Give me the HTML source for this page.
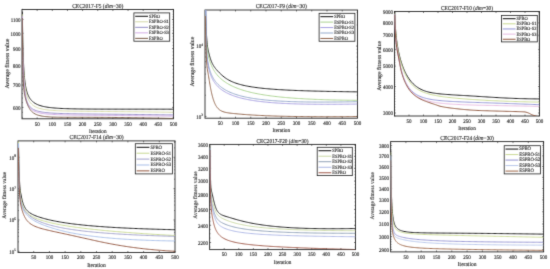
<!DOCTYPE html>
<html><head><meta charset="utf-8"><style>
html,body{margin:0;padding:0;background:#fff;}
svg{display:block;}
text{font-family:"Liberation Serif", serif; fill:#303030; stroke:#303030; stroke-width:0.14px; text-rendering:geometricPrecision;}
</style></head><body>
<svg width="550" height="269" viewBox="0 0 550 269" xmlns="http://www.w3.org/2000/svg">
<defs><filter id="bl" x="0" y="0" width="550" height="269" filterUnits="userSpaceOnUse" color-interpolation-filters="sRGB"><feConvolveMatrix order="3" kernelMatrix="0.0225 0.15 0.0225 0.15 1 0.15 0.0225 0.15 0.0225" edgeMode="duplicate" preserveAlpha="true"/></filter></defs>
<g filter="url(#bl)">
<rect width="550" height="269" fill="#fff"/>
<clipPath id="c1"><rect x="22" y="9.5" width="151.5" height="109.3"/></clipPath>
<rect x="22" y="9.5" width="151.5" height="109.3" fill="none" stroke="#262626" stroke-width="0.9"/>
<text transform="translate(37.15,125.6) scale(1,1.1)" font-size="5" text-anchor="middle">50</text>
<text transform="translate(52.3,125.6) scale(1,1.1)" font-size="5" text-anchor="middle">100</text>
<text transform="translate(67.45,125.6) scale(1,1.1)" font-size="5" text-anchor="middle">150</text>
<text transform="translate(82.6,125.6) scale(1,1.1)" font-size="5" text-anchor="middle">200</text>
<text transform="translate(97.75,125.6) scale(1,1.1)" font-size="5" text-anchor="middle">250</text>
<text transform="translate(112.9,125.6) scale(1,1.1)" font-size="5" text-anchor="middle">300</text>
<text transform="translate(128.05,125.6) scale(1,1.1)" font-size="5" text-anchor="middle">350</text>
<text transform="translate(143.2,125.6) scale(1,1.1)" font-size="5" text-anchor="middle">400</text>
<text transform="translate(158.35,125.6) scale(1,1.1)" font-size="5" text-anchor="middle">450</text>
<text transform="translate(173.5,125.6) scale(1,1.1)" font-size="5" text-anchor="middle">500</text>
<text transform="translate(20.5,109.7) scale(1,1.1)" font-size="5" text-anchor="end">600</text>
<text transform="translate(20.5,87.34) scale(1,1.1)" font-size="5" text-anchor="end">700</text>
<text transform="translate(20.5,67.97) scale(1,1.1)" font-size="5" text-anchor="end">800</text>
<text transform="translate(20.5,50.89) scale(1,1.1)" font-size="5" text-anchor="end">900</text>
<text transform="translate(20.5,35.6) scale(1,1.1)" font-size="5" text-anchor="end">1000</text>
<text transform="translate(20.5,21.78) scale(1,1.1)" font-size="5" text-anchor="end">1100</text>
<path d="M37.15,118.8v-1.5 M37.15,9.5v1.5 M52.3,118.8v-1.5 M52.3,9.5v1.5 M67.45,118.8v-1.5 M67.45,9.5v1.5 M82.6,118.8v-1.5 M82.6,9.5v1.5 M97.75,118.8v-1.5 M97.75,9.5v1.5 M112.9,118.8v-1.5 M112.9,9.5v1.5 M128.05,118.8v-1.5 M128.05,9.5v1.5 M143.2,118.8v-1.5 M143.2,9.5v1.5 M158.35,118.8v-1.5 M158.35,9.5v1.5 M173.5,118.8v-1.5 M173.5,9.5v1.5 M22,107.4h1.5 M173.5,107.4h-1.5 M22,85.04h1.5 M173.5,85.04h-1.5 M22,65.67h1.5 M173.5,65.67h-1.5 M22,48.59h1.5 M173.5,48.59h-1.5 M22,33.3h1.5 M173.5,33.3h-1.5 M22,19.48h1.5 M173.5,19.48h-1.5" stroke="#262626" stroke-width="0.6" fill="none"/>
<path d="M22,117.41h0.9 M173.5,117.41h-0.9 M22,112.32h0.9 M173.5,112.32h-0.9 M22,102.64h0.9 M173.5,102.64h-0.9 M22,98.04h0.9 M173.5,98.04h-0.9 M22,93.57h0.9 M173.5,93.57h-0.9 M22,89.24h0.9 M173.5,89.24h-0.9 M22,80.95h0.9 M173.5,80.95h-0.9 M22,76.98h0.9 M173.5,76.98h-0.9 M22,73.11h0.9 M173.5,73.11h-0.9 M22,69.34h0.9 M173.5,69.34h-0.9 M22,62.09h0.9 M173.5,62.09h-0.9 M22,58.59h0.9 M173.5,58.59h-0.9 M22,55.18h0.9 M173.5,55.18h-0.9 M22,51.85h0.9 M173.5,51.85h-0.9 M22,45.4h0.9 M173.5,45.4h-0.9 M22,42.28h0.9 M173.5,42.28h-0.9 M22,39.22h0.9 M173.5,39.22h-0.9 M22,36.23h0.9 M173.5,36.23h-0.9 M22,30.43h0.9 M173.5,30.43h-0.9 M22,27.61h0.9 M173.5,27.61h-0.9 M22,24.85h0.9 M173.5,24.85h-0.9 M22,22.14h0.9 M173.5,22.14h-0.9 M22,16.86h0.9 M173.5,16.86h-0.9 M22,14.3h0.9 M173.5,14.3h-0.9 M22,11.77h0.9 M173.5,11.77h-0.9 M22,9.29h0.9 M173.5,9.29h-0.9" stroke="#262626" stroke-width="0.5" fill="none"/>
<g clip-path="url(#c1)" fill="none" stroke-linejoin="round">
<path d="M22.3,11.93 L22.5,24.88 L22.7,35.55 L22.89,44.36 L23.09,51.63 L23.29,57.66 L23.49,62.66 L23.69,66.79 L23.89,70.21 L24.08,73.09 L24.28,75.54 L24.48,77.68 L24.68,79.55 L24.88,81.22 L25.08,82.72 L25.27,84.08 L25.47,85.32 L25.67,86.44 L25.87,87.48 L26.07,88.43 L26.27,89.31 L26.46,90.12 L26.66,90.88 L26.86,91.58 L27.06,92.24 L27.26,92.85 L27.46,93.43 L27.65,93.97 L27.85,94.48 L28.05,94.96 L28.25,95.42 L28.45,95.85 L28.65,96.26 L28.84,96.64 L29.04,97.01 L29.24,97.36 L29.44,97.7 L29.64,98.02 L29.84,98.32 L30.03,98.61 L30.23,98.89 L30.43,99.16 L30.63,99.42 L30.83,99.67 L31.03,99.9 L31.22,100.13 L31.42,100.35 L31.62,100.57 L31.82,100.77 L32.02,100.97 L32.22,101.16 L32.41,101.35 L32.61,101.52 L32.81,101.7 L33.01,101.87 L33.21,102.03 L33.41,102.18 L33.6,102.34 L33.8,102.48 L34,102.63 L35.17,103.39 L36.34,104.04 L37.52,104.59 L38.69,105.07 L39.86,105.48 L41.03,105.84 L42.21,106.16 L43.38,106.44 L44.55,106.69 L45.72,106.91 L46.89,107.11 L48.07,107.29 L49.24,107.45 L50.41,107.6 L51.58,107.73 L52.76,107.85 L53.93,107.96 L55.1,108.05 L56.27,108.14 L57.45,108.23 L58.62,108.3 L59.79,108.37 L60.96,108.43 L62.13,108.49 L63.31,108.54 L64.48,108.59 L65.65,108.64 L66.82,108.68 L68,108.72 L69.17,108.75 L70.34,108.78 L71.51,108.81 L72.68,108.84 L73.86,108.87 L75.03,108.89 L76.2,108.91 L77.37,108.93 L78.55,108.95 L79.72,108.97 L80.89,108.98 L82.06,109 L83.24,109.01 L84.41,109.03 L85.58,109.04 L86.75,109.05 L87.92,109.06 L89.1,109.07 L90.27,109.07 L91.44,109.08 L92.61,109.09 L93.79,109.1 L94.96,109.1 L96.13,109.11 L97.3,109.11 L98.47,109.12 L99.65,109.12 L100.82,109.13 L101.99,109.13 L103.16,109.13 L104.34,109.14 L105.51,109.14 L106.68,109.14 L107.85,109.14 L109.03,109.14 L110.2,109.15 L111.37,109.15 L112.54,109.15 L113.71,109.15 L114.89,109.15 L116.06,109.15 L117.23,109.15 L118.4,109.16 L119.58,109.16 L120.75,109.16 L121.92,109.16 L123.09,109.16 L124.26,109.16 L125.44,109.16 L126.61,109.16 L127.78,109.16 L128.95,109.16 L130.13,109.16 L131.3,109.16 L132.47,109.16 L133.64,109.16 L134.82,109.16 L135.99,109.16 L137.16,109.16 L138.33,109.16 L139.5,109.16 L140.68,109.16 L141.85,109.16 L143.02,109.17 L144.19,109.17 L145.37,109.17 L146.54,109.17 L147.71,109.17 L148.88,109.17 L150.05,109.17 L151.23,109.17 L152.4,109.17 L153.57,109.17 L154.74,109.17 L155.92,109.17 L157.09,109.17 L158.26,109.17 L159.43,109.18 L160.61,109.18 L161.78,109.18 L162.95,109.18 L164.12,109.18 L165.29,109.18 L166.47,109.18 L167.64,109.18 L168.81,109.18 L169.98,109.19 L171.16,109.19 L172.33,109.19 L173.5,109.19" stroke="#222222" stroke-width="1.0"/>
<path d="M22.3,14.19 L22.5,32.47 L22.7,44.06 L22.89,52.1 L23.09,58.14 L23.29,63.01 L23.49,67.14 L23.69,70.72 L23.89,73.84 L24.08,76.58 L24.28,79 L24.48,81.15 L24.68,83.07 L24.88,84.77 L25.08,86.31 L25.27,87.69 L25.47,88.95 L25.67,90.09 L25.87,91.14 L26.07,92.1 L26.27,92.98 L26.46,93.79 L26.66,94.55 L26.86,95.25 L27.06,95.91 L27.26,96.52 L27.46,97.09 L27.65,97.62 L27.85,98.13 L28.05,98.6 L28.25,99.04 L28.45,99.47 L28.65,99.86 L28.84,100.24 L29.04,100.6 L29.24,100.94 L29.44,101.27 L29.64,101.57 L29.84,101.87 L30.03,102.15 L30.23,102.42 L30.43,102.68 L30.63,102.92 L30.83,103.16 L31.03,103.39 L31.22,103.61 L31.42,103.82 L31.62,104.02 L31.82,104.21 L32.02,104.4 L32.22,104.58 L32.41,104.75 L32.61,104.92 L32.81,105.08 L33.01,105.24 L33.21,105.39 L33.41,105.54 L33.6,105.68 L33.8,105.81 L34,105.94 L35.17,106.64 L36.34,107.22 L37.52,107.71 L38.69,108.13 L39.86,108.49 L41.03,108.79 L42.21,109.06 L43.38,109.3 L44.55,109.5 L45.72,109.68 L46.89,109.84 L48.07,109.99 L49.24,110.11 L50.41,110.23 L51.58,110.33 L52.76,110.42 L53.93,110.5 L55.1,110.58 L56.27,110.64 L57.45,110.7 L58.62,110.76 L59.79,110.81 L60.96,110.86 L62.13,110.9 L63.31,110.94 L64.48,110.97 L65.65,111.01 L66.82,111.04 L68,111.07 L69.17,111.09 L70.34,111.12 L71.51,111.14 L72.68,111.16 L73.86,111.18 L75.03,111.2 L76.2,111.22 L77.37,111.23 L78.55,111.25 L79.72,111.27 L80.89,111.28 L82.06,111.29 L83.24,111.31 L84.41,111.32 L85.58,111.33 L86.75,111.35 L87.92,111.36 L89.1,111.37 L90.27,111.38 L91.44,111.39 L92.61,111.4 L93.79,111.41 L94.96,111.42 L96.13,111.43 L97.3,111.44 L98.47,111.45 L99.65,111.46 L100.82,111.47 L101.99,111.48 L103.16,111.49 L104.34,111.5 L105.51,111.51 L106.68,111.52 L107.85,111.54 L109.03,111.55 L110.2,111.56 L111.37,111.57 L112.54,111.58 L113.71,111.59 L114.89,111.6 L116.06,111.61 L117.23,111.62 L118.4,111.63 L119.58,111.64 L120.75,111.65 L121.92,111.66 L123.09,111.67 L124.26,111.69 L125.44,111.7 L126.61,111.71 L127.78,111.72 L128.95,111.73 L130.13,111.74 L131.3,111.76 L132.47,111.77 L133.64,111.78 L134.82,111.79 L135.99,111.81 L137.16,111.82 L138.33,111.83 L139.5,111.85 L140.68,111.86 L141.85,111.87 L143.02,111.89 L144.19,111.9 L145.37,111.91 L146.54,111.93 L147.71,111.94 L148.88,111.95 L150.05,111.97 L151.23,111.98 L152.4,112 L153.57,112.01 L154.74,112.03 L155.92,112.04 L157.09,112.06 L158.26,112.07 L159.43,112.09 L160.61,112.1 L161.78,112.12 L162.95,112.13 L164.12,112.15 L165.29,112.16 L166.47,112.18 L167.64,112.19 L168.81,112.21 L169.98,112.23 L171.16,112.24 L172.33,112.26 L173.5,112.27" stroke="#d2d6a4" stroke-width="0.9"/>
<path d="M22.3,16.43 L22.5,41.21 L22.7,54.58 L22.89,62.59 L23.09,68.03 L23.29,72.31 L23.49,75.98 L23.69,79.17 L23.89,81.95 L24.08,84.41 L24.28,86.58 L24.48,88.52 L24.68,90.25 L24.88,91.79 L25.08,93.18 L25.27,94.43 L25.47,95.56 L25.67,96.58 L25.87,97.51 L26.07,98.35 L26.27,99.13 L26.46,99.84 L26.66,100.5 L26.86,101.1 L27.06,101.66 L27.26,102.18 L27.46,102.67 L27.65,103.12 L27.85,103.54 L28.05,103.94 L28.25,104.31 L28.45,104.65 L28.65,104.98 L28.84,105.29 L29.04,105.58 L29.24,105.85 L29.44,106.11 L29.64,106.36 L29.84,106.59 L30.03,106.82 L30.23,107.03 L30.43,107.23 L30.63,107.42 L30.83,107.6 L31.03,107.78 L31.22,107.95 L31.42,108.11 L31.62,108.26 L31.82,108.41 L32.02,108.55 L32.22,108.68 L32.41,108.82 L32.61,108.94 L32.81,109.06 L33.01,109.18 L33.21,109.3 L33.41,109.4 L33.6,109.51 L33.8,109.61 L34,109.71 L35.17,110.24 L36.34,110.68 L37.52,111.05 L38.69,111.37 L39.86,111.64 L41.03,111.88 L42.21,112.08 L43.38,112.26 L44.55,112.42 L45.72,112.56 L46.89,112.68 L48.07,112.8 L49.24,112.9 L50.41,112.99 L51.58,113.07 L52.76,113.14 L53.93,113.21 L55.1,113.27 L56.27,113.32 L57.45,113.37 L58.62,113.42 L59.79,113.46 L60.96,113.5 L62.13,113.54 L63.31,113.57 L64.48,113.6 L65.65,113.63 L66.82,113.66 L68,113.68 L69.17,113.71 L70.34,113.73 L71.51,113.75 L72.68,113.77 L73.86,113.79 L75.03,113.81 L76.2,113.83 L77.37,113.84 L78.55,113.86 L79.72,113.88 L80.89,113.89 L82.06,113.91 L83.24,113.92 L84.41,113.93 L85.58,113.95 L86.75,113.96 L87.92,113.97 L89.1,113.99 L90.27,114 L91.44,114.01 L92.61,114.02 L93.79,114.03 L94.96,114.05 L96.13,114.06 L97.3,114.07 L98.47,114.08 L99.65,114.09 L100.82,114.1 L101.99,114.12 L103.16,114.13 L104.34,114.14 L105.51,114.15 L106.68,114.16 L107.85,114.17 L109.03,114.18 L110.2,114.2 L111.37,114.21 L112.54,114.22 L113.71,114.23 L114.89,114.24 L116.06,114.25 L117.23,114.27 L118.4,114.28 L119.58,114.29 L120.75,114.3 L121.92,114.31 L123.09,114.33 L124.26,114.34 L125.44,114.35 L126.61,114.36 L127.78,114.37 L128.95,114.39 L130.13,114.4 L131.3,114.41 L132.47,114.42 L133.64,114.44 L134.82,114.45 L135.99,114.46 L137.16,114.48 L138.33,114.49 L139.5,114.5 L140.68,114.52 L141.85,114.53 L143.02,114.54 L144.19,114.56 L145.37,114.57 L146.54,114.58 L147.71,114.6 L148.88,114.61 L150.05,114.62 L151.23,114.64 L152.4,114.65 L153.57,114.67 L154.74,114.68 L155.92,114.7 L157.09,114.71 L158.26,114.72 L159.43,114.74 L160.61,114.75 L161.78,114.77 L162.95,114.78 L164.12,114.8 L165.29,114.81 L166.47,114.83 L167.64,114.84 L168.81,114.86 L169.98,114.87 L171.16,114.89 L172.33,114.9 L173.5,114.92" stroke="#8e88c4" stroke-width="0.9"/>
<path d="M22.3,16.43 L22.5,41.15 L22.7,54.56 L22.89,62.65 L23.09,68.2 L23.29,72.59 L23.49,76.36 L23.69,79.64 L23.89,82.52 L24.08,85.06 L24.28,87.31 L24.48,89.32 L24.68,91.1 L24.88,92.7 L25.08,94.14 L25.27,95.42 L25.47,96.58 L25.67,97.63 L25.87,98.58 L26.07,99.45 L26.27,100.24 L26.46,100.97 L26.66,101.64 L26.86,102.26 L27.06,102.83 L27.26,103.36 L27.46,103.85 L27.65,104.31 L27.85,104.73 L28.05,105.13 L28.25,105.51 L28.45,105.86 L28.65,106.19 L28.84,106.5 L29.04,106.8 L29.24,107.07 L29.44,107.34 L29.64,107.58 L29.84,107.82 L30.03,108.04 L30.23,108.26 L30.43,108.46 L30.63,108.66 L30.83,108.84 L31.03,109.02 L31.22,109.19 L31.42,109.35 L31.62,109.51 L31.82,109.66 L32.02,109.8 L32.22,109.94 L32.41,110.08 L32.61,110.21 L32.81,110.33 L33.01,110.45 L33.21,110.57 L33.41,110.68 L33.6,110.79 L33.8,110.89 L34,111 L35.17,111.53 L36.34,111.98 L37.52,112.36 L38.69,112.68 L39.86,112.96 L41.03,113.19 L42.21,113.4 L43.38,113.58 L44.55,113.74 L45.72,113.88 L46.89,114 L48.07,114.11 L49.24,114.21 L50.41,114.3 L51.58,114.38 L52.76,114.45 L53.93,114.51 L55.1,114.57 L56.27,114.62 L57.45,114.67 L58.62,114.71 L59.79,114.75 L60.96,114.79 L62.13,114.82 L63.31,114.86 L64.48,114.88 L65.65,114.91 L66.82,114.94 L68,114.96 L69.17,114.98 L70.34,115 L71.51,115.02 L72.68,115.04 L73.86,115.06 L75.03,115.07 L76.2,115.09 L77.37,115.1 L78.55,115.12 L79.72,115.13 L80.89,115.15 L82.06,115.16 L83.24,115.17 L84.41,115.18 L85.58,115.19 L86.75,115.21 L87.92,115.22 L89.1,115.23 L90.27,115.24 L91.44,115.25 L92.61,115.26 L93.79,115.27 L94.96,115.28 L96.13,115.29 L97.3,115.3 L98.47,115.31 L99.65,115.32 L100.82,115.33 L101.99,115.34 L103.16,115.35 L104.34,115.36 L105.51,115.37 L106.68,115.38 L107.85,115.39 L109.03,115.4 L110.2,115.42 L111.37,115.43 L112.54,115.44 L113.71,115.45 L114.89,115.46 L116.06,115.47 L117.23,115.48 L118.4,115.49 L119.58,115.5 L120.75,115.51 L121.92,115.52 L123.09,115.53 L124.26,115.55 L125.44,115.56 L126.61,115.57 L127.78,115.58 L128.95,115.59 L130.13,115.6 L131.3,115.62 L132.47,115.63 L133.64,115.64 L134.82,115.65 L135.99,115.67 L137.16,115.68 L138.33,115.69 L139.5,115.7 L140.68,115.72 L141.85,115.73 L143.02,115.74 L144.19,115.76 L145.37,115.77 L146.54,115.78 L147.71,115.8 L148.88,115.81 L150.05,115.82 L151.23,115.84 L152.4,115.85 L153.57,115.86 L154.74,115.88 L155.92,115.89 L157.09,115.91 L158.26,115.92 L159.43,115.93 L160.61,115.95 L161.78,115.96 L162.95,115.98 L164.12,115.99 L165.29,116.01 L166.47,116.02 L167.64,116.04 L168.81,116.05 L169.98,116.07 L171.16,116.08 L172.33,116.1 L173.5,116.11" stroke="#d0a8e4" stroke-width="0.9"/>
<path d="M22.3,17.95 L22.5,42.08 L22.7,60.58 L22.89,71.86 L23.09,78.03 L23.29,82.01 L23.49,85.03 L23.69,87.42 L23.89,89.37 L24.08,91 L24.28,92.41 L24.48,93.66 L24.68,94.78 L24.88,95.8 L25.08,96.73 L25.27,97.59 L25.47,98.38 L25.67,99.13 L25.87,99.83 L26.07,100.49 L26.27,101.12 L26.46,101.72 L26.66,102.3 L26.86,102.85 L27.06,103.39 L27.26,103.9 L27.46,104.4 L27.65,104.89 L27.85,105.36 L28.05,105.81 L28.25,106.24 L28.45,106.66 L28.65,107.06 L28.84,107.45 L29.04,107.82 L29.24,108.17 L29.44,108.51 L29.64,108.84 L29.84,109.15 L30.03,109.45 L30.23,109.73 L30.43,110 L30.63,110.26 L30.83,110.51 L31.03,110.75 L31.22,110.97 L31.42,111.19 L31.62,111.4 L31.82,111.6 L32.02,111.79 L32.22,111.97 L32.41,112.15 L32.61,112.32 L32.81,112.48 L33.01,112.63 L33.21,112.78 L33.41,112.93 L33.6,113.07 L33.8,113.2 L34,113.33 L35.17,114 L36.34,114.55 L37.52,115 L38.69,115.37 L39.86,115.67 L41.03,115.93 L42.21,116.15 L43.38,116.33 L44.55,116.49 L45.72,116.62 L46.89,116.73 L48.07,116.82 L49.24,116.9 L50.41,116.97 L51.58,117.03 L52.76,117.08 L53.93,117.12 L55.1,117.15 L56.27,117.18 L57.45,117.21 L58.62,117.23 L59.79,117.24 L60.96,117.26 L62.13,117.27 L63.31,117.28 L64.48,117.29 L65.65,117.29 L66.82,117.3 L68,117.3 L69.17,117.3 L70.34,117.31 L71.51,117.31 L72.68,117.31 L73.86,117.31 L75.03,117.31 L76.2,117.31 L77.37,117.31 L78.55,117.31 L79.72,117.31 L80.89,117.31 L82.06,117.31 L83.24,117.31 L84.41,117.31 L85.58,117.31 L86.75,117.32 L87.92,117.32 L89.1,117.32 L90.27,117.32 L91.44,117.32 L92.61,117.33 L93.79,117.33 L94.96,117.34 L96.13,117.34 L97.3,117.35 L98.47,117.35 L99.65,117.36 L100.82,117.36 L101.99,117.37 L103.16,117.38 L104.34,117.38 L105.51,117.39 L106.68,117.4 L107.85,117.41 L109.03,117.42 L110.2,117.43 L111.37,117.44 L112.54,117.45 L113.71,117.46 L114.89,117.47 L116.06,117.49 L117.23,117.5 L118.4,117.51 L119.58,117.53 L120.75,117.54 L121.92,117.55 L123.09,117.57 L124.26,117.58 L125.44,117.6 L126.61,117.61 L127.78,117.63 L128.95,117.65 L130.13,117.66 L131.3,117.68 L132.47,117.7 L133.64,117.72 L134.82,117.73 L135.99,117.75 L137.16,117.77 L138.33,117.79 L139.5,117.81 L140.68,117.83 L141.85,117.85 L143.02,117.87 L144.19,117.89 L145.37,117.91 L146.54,117.94 L147.71,117.96 L148.88,117.98 L150.05,118 L151.23,118.03 L152.4,118.05 L153.57,118.07 L154.74,118.1 L155.92,118.12 L157.09,118.14 L158.26,118.17 L159.43,118.19 L160.61,118.22 L161.78,118.24 L162.95,118.27 L164.12,118.29 L165.29,118.32 L166.47,118.35 L167.64,118.37 L168.81,118.4 L169.98,118.43 L171.16,118.45 L172.33,118.48 L173.5,118.51" stroke="#74523e" stroke-width="0.9"/>
</g>
<text transform="translate(97.75,7.9) scale(1,1.1)" font-size="5.5" text-anchor="middle">CEC2017-F5 (<tspan font-style="italic">dim</tspan>=30)</text>
<text transform="translate(97.75,132.8) scale(1,1.1)" font-size="5.2" text-anchor="middle">Iteration</text>
<text transform="translate(8.7,63.55) rotate(-90)" text-anchor="middle" font-size="5.8">Average fitness value</text>
<rect x="133.9" y="12.9" width="35.8" height="28.3" fill="#fff" stroke="#222" stroke-width="0.8"/>
<path d="M135.2,16.3h12.8" stroke="#222222" stroke-width="1.1"/>
<text transform="translate(149,17.7) scale(1,1.1)" font-size="4.4">SPBO</text>
<path d="M135.2,21.81h12.8" stroke="#d2d6a4" stroke-width="0.95"/>
<text transform="translate(149,23.21) scale(1,1.1)" font-size="4.4">ESPBO-S1</text>
<path d="M135.2,27.33h12.8" stroke="#8e88c4" stroke-width="0.95"/>
<text transform="translate(149,28.73) scale(1,1.1)" font-size="4.4">ESPBO-S2</text>
<path d="M135.2,32.85h12.8" stroke="#d0a8e4" stroke-width="0.95"/>
<text transform="translate(149,34.25) scale(1,1.1)" font-size="4.4">ESPBO-S3</text>
<path d="M135.2,38.37h12.8" stroke="#74523e" stroke-width="0.95"/>
<text transform="translate(149,39.77) scale(1,1.1)" font-size="4.4">ESPBO</text>
<clipPath id="c2"><rect x="205" y="10" width="152.5" height="108.2"/></clipPath>
<rect x="205" y="10" width="152.5" height="108.2" fill="none" stroke="#262626" stroke-width="0.9"/>
<text transform="translate(220.25,125) scale(1,1.1)" font-size="5" text-anchor="middle">50</text>
<text transform="translate(235.5,125) scale(1,1.1)" font-size="5" text-anchor="middle">100</text>
<text transform="translate(250.75,125) scale(1,1.1)" font-size="5" text-anchor="middle">150</text>
<text transform="translate(266,125) scale(1,1.1)" font-size="5" text-anchor="middle">200</text>
<text transform="translate(281.25,125) scale(1,1.1)" font-size="5" text-anchor="middle">250</text>
<text transform="translate(296.5,125) scale(1,1.1)" font-size="5" text-anchor="middle">300</text>
<text transform="translate(311.75,125) scale(1,1.1)" font-size="5" text-anchor="middle">350</text>
<text transform="translate(327,125) scale(1,1.1)" font-size="5" text-anchor="middle">400</text>
<text transform="translate(342.25,125) scale(1,1.1)" font-size="5" text-anchor="middle">450</text>
<text transform="translate(357.5,125) scale(1,1.1)" font-size="5" text-anchor="middle">500</text>
<text transform="translate(203,118.7) scale(1,1.1)" text-anchor="end" font-size="5.0">10<tspan dy="-2.1" font-size="3.5">3</tspan></text>
<text transform="translate(203,48.4) scale(1,1.1)" text-anchor="end" font-size="5.0">10<tspan dy="-2.1" font-size="3.5">4</tspan></text>
<path d="M220.25,118.2v-1.5 M220.25,10v1.5 M235.5,118.2v-1.5 M235.5,10v1.5 M250.75,118.2v-1.5 M250.75,10v1.5 M266,118.2v-1.5 M266,10v1.5 M281.25,118.2v-1.5 M281.25,10v1.5 M296.5,118.2v-1.5 M296.5,10v1.5 M311.75,118.2v-1.5 M311.75,10v1.5 M327,118.2v-1.5 M327,10v1.5 M342.25,118.2v-1.5 M342.25,10v1.5 M357.5,118.2v-1.5 M357.5,10v1.5 M205,116.4h1.5 M357.5,116.4h-1.5 M205,46.1h1.5 M357.5,46.1h-1.5" stroke="#262626" stroke-width="0.6" fill="none"/>
<path d="M205,95.24h0.9 M357.5,95.24h-0.9 M205,82.86h0.9 M357.5,82.86h-0.9 M205,74.08h0.9 M357.5,74.08h-0.9 M205,67.26h0.9 M357.5,67.26h-0.9 M205,61.7h0.9 M357.5,61.7h-0.9 M205,56.99h0.9 M357.5,56.99h-0.9 M205,52.91h0.9 M357.5,52.91h-0.9 M205,49.32h0.9 M357.5,49.32h-0.9 M205,24.94h0.9 M357.5,24.94h-0.9 M205,12.56h0.9 M357.5,12.56h-0.9" stroke="#262626" stroke-width="0.5" fill="none"/>
<g clip-path="url(#c2)" fill="none" stroke-linejoin="round">
<path d="M205.3,10.95 L205.5,13.98 L205.7,18.33 L205.89,22.91 L206.09,27.27 L206.29,31.24 L206.49,34.76 L206.69,37.83 L206.89,40.48 L207.08,42.71 L207.28,44.59 L207.48,46.15 L207.68,47.48 L207.88,48.64 L208.08,49.68 L208.27,50.64 L208.47,51.53 L208.67,52.38 L208.87,53.2 L209.07,53.99 L209.27,54.76 L209.46,55.5 L209.66,56.22 L209.86,56.9 L210.06,57.57 L210.26,58.2 L210.46,58.82 L210.65,59.41 L210.85,59.97 L211.05,60.51 L211.25,61.04 L211.45,61.53 L211.65,62.01 L211.84,62.47 L212.04,62.91 L212.24,63.33 L212.44,63.74 L212.64,64.13 L212.84,64.5 L213.03,64.85 L213.23,65.2 L213.43,65.53 L213.63,65.85 L213.83,66.16 L214.03,66.46 L214.22,66.75 L214.42,67.04 L214.62,67.32 L214.82,67.59 L215.02,67.85 L215.22,68.11 L215.41,68.36 L215.61,68.61 L215.81,68.86 L216.01,69.09 L216.21,69.33 L216.41,69.56 L216.6,69.79 L216.8,70.02 L217,70.24 L218.18,71.51 L219.36,72.73 L220.54,73.89 L221.72,74.99 L222.9,76.02 L224.08,76.98 L225.26,77.86 L226.45,78.67 L227.63,79.41 L228.81,80.09 L229.99,80.71 L231.17,81.28 L232.35,81.8 L233.53,82.29 L234.71,82.75 L235.89,83.17 L237.07,83.56 L238.25,83.93 L239.43,84.28 L240.61,84.6 L241.79,84.9 L242.97,85.19 L244.16,85.46 L245.34,85.72 L246.52,85.96 L247.7,86.19 L248.88,86.41 L250.06,86.61 L251.24,86.81 L252.42,87 L253.6,87.17 L254.78,87.34 L255.96,87.5 L257.14,87.66 L258.32,87.81 L259.5,87.95 L260.68,88.08 L261.87,88.21 L263.05,88.34 L264.23,88.46 L265.41,88.57 L266.59,88.68 L267.77,88.79 L268.95,88.89 L270.13,88.99 L271.31,89.08 L272.49,89.17 L273.67,89.26 L274.85,89.34 L276.03,89.42 L277.21,89.5 L278.39,89.58 L279.58,89.65 L280.76,89.72 L281.94,89.79 L283.12,89.86 L284.3,89.92 L285.48,89.99 L286.66,90.05 L287.84,90.11 L289.02,90.16 L290.2,90.22 L291.38,90.27 L292.56,90.32 L293.74,90.37 L294.92,90.42 L296.11,90.47 L297.29,90.52 L298.47,90.56 L299.65,90.61 L300.83,90.65 L302.01,90.69 L303.19,90.73 L304.37,90.77 L305.55,90.81 L306.73,90.84 L307.91,90.88 L309.09,90.92 L310.27,90.95 L311.45,90.99 L312.63,91.02 L313.82,91.05 L315,91.08 L316.18,91.11 L317.36,91.14 L318.54,91.17 L319.72,91.2 L320.9,91.23 L322.08,91.26 L323.26,91.28 L324.44,91.31 L325.62,91.33 L326.8,91.36 L327.98,91.38 L329.16,91.41 L330.34,91.43 L331.53,91.45 L332.71,91.48 L333.89,91.5 L335.07,91.52 L336.25,91.54 L337.43,91.56 L338.61,91.58 L339.79,91.6 L340.97,91.62 L342.15,91.64 L343.33,91.66 L344.51,91.68 L345.69,91.7 L346.87,91.72 L348.05,91.73 L349.24,91.75 L350.42,91.77 L351.6,91.79 L352.78,91.8 L353.96,91.82 L355.14,91.83 L356.32,91.85 L357.5,91.87" stroke="#222222" stroke-width="1.0"/>
<path d="M205.3,11.96 L205.5,17.47 L205.7,22.89 L205.89,27.84 L206.09,32.26 L206.29,36.13 L206.49,39.51 L206.69,42.44 L206.89,44.97 L207.08,47.14 L207.28,48.99 L207.48,50.58 L207.68,51.96 L207.88,53.17 L208.08,54.27 L208.27,55.26 L208.47,56.18 L208.67,57.03 L208.87,57.84 L209.07,58.61 L209.27,59.33 L209.46,60.02 L209.66,60.68 L209.86,61.31 L210.06,61.92 L210.26,62.5 L210.46,63.05 L210.65,63.59 L210.85,64.11 L211.05,64.61 L211.25,65.09 L211.45,65.55 L211.65,66.01 L211.84,66.44 L212.04,66.87 L212.24,67.28 L212.44,67.68 L212.64,68.08 L212.84,68.46 L213.03,68.83 L213.23,69.19 L213.43,69.54 L213.63,69.88 L213.83,70.22 L214.03,70.55 L214.22,70.87 L214.42,71.18 L214.62,71.49 L214.82,71.79 L215.02,72.08 L215.22,72.37 L215.41,72.65 L215.61,72.93 L215.81,73.2 L216.01,73.46 L216.21,73.72 L216.41,73.98 L216.6,74.23 L216.8,74.47 L217,74.72 L218.18,76.07 L219.36,77.3 L220.54,78.42 L221.72,79.45 L222.9,80.41 L224.08,81.29 L225.26,82.12 L226.45,82.89 L227.63,83.62 L228.81,84.3 L229.99,84.94 L231.17,85.55 L232.35,86.13 L233.53,86.68 L234.71,87.2 L235.89,87.69 L237.07,88.16 L238.25,88.61 L239.43,89.04 L240.61,89.45 L241.79,89.84 L242.97,90.21 L244.16,90.57 L245.34,90.92 L246.52,91.25 L247.7,91.56 L248.88,91.87 L250.06,92.16 L251.24,92.44 L252.42,92.71 L253.6,92.97 L254.78,93.23 L255.96,93.47 L257.14,93.7 L258.32,93.93 L259.5,94.15 L260.68,94.36 L261.87,94.56 L263.05,94.76 L264.23,94.95 L265.41,95.13 L266.59,95.31 L267.77,95.48 L268.95,95.65 L270.13,95.81 L271.31,95.97 L272.49,96.12 L273.67,96.26 L274.85,96.4 L276.03,96.54 L277.21,96.68 L278.39,96.8 L279.58,96.93 L280.76,97.05 L281.94,97.17 L283.12,97.28 L284.3,97.39 L285.48,97.5 L286.66,97.6 L287.84,97.71 L289.02,97.8 L290.2,97.9 L291.38,97.99 L292.56,98.08 L293.74,98.17 L294.92,98.25 L296.11,98.33 L297.29,98.41 L298.47,98.49 L299.65,98.56 L300.83,98.64 L302.01,98.71 L303.19,98.77 L304.37,98.84 L305.55,98.9 L306.73,98.97 L307.91,99.03 L309.09,99.08 L310.27,99.14 L311.45,99.2 L312.63,99.25 L313.82,99.3 L315,99.35 L316.18,99.4 L317.36,99.45 L318.54,99.49 L319.72,99.53 L320.9,99.58 L322.08,99.62 L323.26,99.66 L324.44,99.7 L325.62,99.73 L326.8,99.77 L327.98,99.8 L329.16,99.84 L330.34,99.87 L331.53,99.9 L332.71,99.93 L333.89,99.96 L335.07,99.98 L336.25,100.01 L337.43,100.04 L338.61,100.06 L339.79,100.08 L340.97,100.11 L342.15,100.13 L343.33,100.15 L344.51,100.17 L345.69,100.19 L346.87,100.2 L348.05,100.22 L349.24,100.24 L350.42,100.25 L351.6,100.27 L352.78,100.28 L353.96,100.3 L355.14,100.31 L356.32,100.32 L357.5,100.33" stroke="#a6d08a" stroke-width="0.9"/>
<path d="M205.3,14 L205.5,-6.77 L205.7,-1.78 L205.89,11.64 L206.09,26.21 L206.29,38.72 L206.49,47.84 L206.69,53.35 L206.89,56.54 L207.08,58.53 L207.28,60.07 L207.48,61.47 L207.68,62.76 L207.88,63.96 L208.08,65.07 L208.27,66.11 L208.47,67.08 L208.67,68 L208.87,68.86 L209.07,69.67 L209.27,70.45 L209.46,71.18 L209.66,71.87 L209.86,72.53 L210.06,73.16 L210.26,73.77 L210.46,74.34 L210.65,74.9 L210.85,75.42 L211.05,75.93 L211.25,76.42 L211.45,76.89 L211.65,77.35 L211.84,77.79 L212.04,78.21 L212.24,78.62 L212.44,79.01 L212.64,79.4 L212.84,79.77 L213.03,80.13 L213.23,80.48 L213.43,80.82 L213.63,81.15 L213.83,81.47 L214.03,81.78 L214.22,82.08 L214.42,82.38 L214.62,82.66 L214.82,82.95 L215.02,83.22 L215.22,83.49 L215.41,83.75 L215.61,84 L215.81,84.25 L216.01,84.49 L216.21,84.73 L216.41,84.97 L216.6,85.19 L216.8,85.42 L217,85.63 L218.18,86.85 L219.36,87.93 L220.54,88.91 L221.72,89.8 L222.9,90.62 L224.08,91.37 L225.26,92.06 L226.45,92.71 L227.63,93.31 L228.81,93.87 L229.99,94.4 L231.17,94.89 L232.35,95.36 L233.53,95.8 L234.71,96.21 L235.89,96.61 L237.07,96.98 L238.25,97.33 L239.43,97.66 L240.61,97.98 L241.79,98.28 L242.97,98.56 L244.16,98.83 L245.34,99.09 L246.52,99.34 L247.7,99.57 L248.88,99.8 L250.06,100.01 L251.24,100.22 L252.42,100.41 L253.6,100.6 L254.78,100.78 L255.96,100.95 L257.14,101.11 L258.32,101.27 L259.5,101.42 L260.68,101.56 L261.87,101.7 L263.05,101.83 L264.23,101.96 L265.41,102.08 L266.59,102.2 L267.77,102.31 L268.95,102.41 L270.13,102.51 L271.31,102.61 L272.49,102.7 L273.67,102.79 L274.85,102.88 L276.03,102.96 L277.21,103.04 L278.39,103.12 L279.58,103.19 L280.76,103.26 L281.94,103.32 L283.12,103.38 L284.3,103.44 L285.48,103.5 L286.66,103.56 L287.84,103.61 L289.02,103.66 L290.2,103.71 L291.38,103.75 L292.56,103.79 L293.74,103.83 L294.92,103.87 L296.11,103.91 L297.29,103.94 L298.47,103.98 L299.65,104.01 L300.83,104.04 L302.01,104.06 L303.19,104.09 L304.37,104.11 L305.55,104.14 L306.73,104.16 L307.91,104.18 L309.09,104.19 L310.27,104.21 L311.45,104.22 L312.63,104.24 L313.82,104.25 L315,104.26 L316.18,104.27 L317.36,104.28 L318.54,104.29 L319.72,104.3 L320.9,104.3 L322.08,104.31 L323.26,104.31 L324.44,104.31 L325.62,104.31 L326.8,104.31 L327.98,104.31 L329.16,104.31 L330.34,104.31 L331.53,104.3 L332.71,104.3 L333.89,104.3 L335.07,104.29 L336.25,104.28 L337.43,104.28 L338.61,104.27 L339.79,104.26 L340.97,104.25 L342.15,104.24 L343.33,104.23 L344.51,104.22 L345.69,104.2 L346.87,104.19 L348.05,104.18 L349.24,104.16 L350.42,104.15 L351.6,104.13 L352.78,104.12 L353.96,104.1 L355.14,104.08 L356.32,104.06 L357.5,104.05" stroke="#a49ce0" stroke-width="0.9"/>
<path d="M205.3,14 L205.5,-16.57 L205.7,-12.99 L205.89,2.13 L206.09,19.21 L206.29,34.03 L206.49,44.74 L206.69,51.05 L206.89,54.51 L207.08,56.54 L207.28,58.04 L207.48,59.4 L207.68,60.65 L207.88,61.81 L208.08,62.9 L208.27,63.91 L208.47,64.86 L208.67,65.75 L208.87,66.6 L209.07,67.39 L209.27,68.15 L209.46,68.87 L209.66,69.55 L209.86,70.2 L210.06,70.83 L210.26,71.42 L210.46,71.99 L210.65,72.54 L210.85,73.07 L211.05,73.57 L211.25,74.06 L211.45,74.53 L211.65,74.98 L211.84,75.41 L212.04,75.84 L212.24,76.25 L212.44,76.64 L212.64,77.02 L212.84,77.4 L213.03,77.76 L213.23,78.11 L213.43,78.45 L213.63,78.78 L213.83,79.1 L214.03,79.41 L214.22,79.72 L214.42,80.02 L214.62,80.31 L214.82,80.59 L215.02,80.87 L215.22,81.14 L215.41,81.4 L215.61,81.66 L215.81,81.91 L216.01,82.15 L216.21,82.4 L216.41,82.63 L216.6,82.86 L216.8,83.09 L217,83.31 L218.18,84.54 L219.36,85.64 L220.54,86.64 L221.72,87.55 L222.9,88.37 L224.08,89.14 L225.26,89.85 L226.45,90.5 L227.63,91.11 L228.81,91.69 L229.99,92.22 L231.17,92.73 L232.35,93.2 L233.53,93.65 L234.71,94.07 L235.89,94.46 L237.07,94.84 L238.25,95.2 L239.43,95.53 L240.61,95.85 L241.79,96.16 L242.97,96.45 L244.16,96.72 L245.34,96.98 L246.52,97.23 L247.7,97.47 L248.88,97.69 L250.06,97.91 L251.24,98.12 L252.42,98.31 L253.6,98.5 L254.78,98.68 L255.96,98.85 L257.14,99.01 L258.32,99.17 L259.5,99.32 L260.68,99.46 L261.87,99.6 L263.05,99.73 L264.23,99.86 L265.41,99.98 L266.59,100.09 L267.77,100.2 L268.95,100.31 L270.13,100.41 L271.31,100.5 L272.49,100.59 L273.67,100.68 L274.85,100.77 L276.03,100.85 L277.21,100.92 L278.39,100.99 L279.58,101.06 L280.76,101.13 L281.94,101.19 L283.12,101.25 L284.3,101.31 L285.48,101.37 L286.66,101.42 L287.84,101.47 L289.02,101.52 L290.2,101.56 L291.38,101.6 L292.56,101.64 L293.74,101.68 L294.92,101.71 L296.11,101.75 L297.29,101.78 L298.47,101.81 L299.65,101.84 L300.83,101.86 L302.01,101.89 L303.19,101.91 L304.37,101.93 L305.55,101.95 L306.73,101.97 L307.91,101.98 L309.09,102 L310.27,102.01 L311.45,102.02 L312.63,102.03 L313.82,102.04 L315,102.05 L316.18,102.05 L317.36,102.06 L318.54,102.06 L319.72,102.07 L320.9,102.07 L322.08,102.07 L323.26,102.07 L324.44,102.07 L325.62,102.06 L326.8,102.06 L327.98,102.06 L329.16,102.05 L330.34,102.04 L331.53,102.04 L332.71,102.03 L333.89,102.02 L335.07,102.01 L336.25,102 L337.43,101.99 L338.61,101.98 L339.79,101.96 L340.97,101.95 L342.15,101.94 L343.33,101.92 L344.51,101.9 L345.69,101.89 L346.87,101.87 L348.05,101.85 L349.24,101.83 L350.42,101.82 L351.6,101.8 L352.78,101.78 L353.96,101.76 L355.14,101.73 L356.32,101.71 L357.5,101.69" stroke="#8ea4c8" stroke-width="0.9"/>
<path d="M205.3,15.97 L205.5,26.29 L205.7,35.77 L205.89,43.85 L206.09,50.49 L206.29,55.8 L206.49,59.91 L206.69,62.97 L206.89,65.24 L207.08,67 L207.28,68.46 L207.48,69.76 L207.68,70.98 L207.88,72.16 L208.08,73.32 L208.27,74.48 L208.47,75.64 L208.67,76.82 L208.87,78.02 L209.07,79.24 L209.27,80.48 L209.46,81.72 L209.66,82.93 L209.86,84.12 L210.06,85.27 L210.26,86.39 L210.46,87.47 L210.65,88.52 L210.85,89.53 L211.05,90.51 L211.25,91.45 L211.45,92.36 L211.65,93.24 L211.84,94.09 L212.04,94.9 L212.24,95.69 L212.44,96.44 L212.64,97.17 L212.84,97.87 L213.03,98.54 L213.23,99.18 L213.43,99.8 L213.63,100.39 L213.83,100.96 L214.03,101.51 L214.22,102.03 L214.42,102.53 L214.62,103.01 L214.82,103.46 L215.02,103.9 L215.22,104.32 L215.41,104.71 L215.61,105.09 L215.81,105.45 L216.01,105.79 L216.21,106.12 L216.41,106.43 L216.6,106.73 L216.8,107.01 L217,107.28 L218.18,108.64 L219.36,109.68 L220.54,110.49 L221.72,111.11 L222.9,111.6 L224.08,112 L225.26,112.31 L226.45,112.57 L227.63,112.78 L228.81,112.96 L229.99,113.12 L231.17,113.26 L232.35,113.39 L233.53,113.51 L234.71,113.63 L235.89,113.74 L237.07,113.85 L238.25,113.96 L239.43,114.07 L240.61,114.17 L241.79,114.27 L242.97,114.36 L244.16,114.46 L245.34,114.54 L246.52,114.63 L247.7,114.72 L248.88,114.8 L250.06,114.88 L251.24,114.95 L252.42,115.03 L253.6,115.1 L254.78,115.17 L255.96,115.23 L257.14,115.3 L258.32,115.36 L259.5,115.42 L260.68,115.48 L261.87,115.53 L263.05,115.59 L264.23,115.64 L265.41,115.69 L266.59,115.74 L267.77,115.79 L268.95,115.83 L270.13,115.88 L271.31,115.92 L272.49,115.96 L273.67,116 L274.85,116.04 L276.03,116.07 L277.21,116.11 L278.39,116.14 L279.58,116.18 L280.76,116.21 L281.94,116.24 L283.12,116.27 L284.3,116.29 L285.48,116.32 L286.66,116.35 L287.84,116.37 L289.02,116.39 L290.2,116.42 L291.38,116.44 L292.56,116.46 L293.74,116.48 L294.92,116.49 L296.11,116.51 L297.29,116.53 L298.47,116.55 L299.65,116.56 L300.83,116.57 L302.01,116.59 L303.19,116.6 L304.37,116.61 L305.55,116.62 L306.73,116.63 L307.91,116.64 L309.09,116.65 L310.27,116.66 L311.45,116.67 L312.63,116.68 L313.82,116.68 L315,116.69 L316.18,116.69 L317.36,116.7 L318.54,116.7 L319.72,116.71 L320.9,116.71 L322.08,116.71 L323.26,116.71 L324.44,116.71 L325.62,116.72 L326.8,116.72 L327.98,116.72 L329.16,116.71 L330.34,116.71 L331.53,116.71 L332.71,116.71 L333.89,116.71 L335.07,116.71 L336.25,116.7 L337.43,116.7 L338.61,116.69 L339.79,116.69 L340.97,116.68 L342.15,116.68 L343.33,116.67 L344.51,116.67 L345.69,116.66 L346.87,116.65 L348.05,116.65 L349.24,116.64 L350.42,116.63 L351.6,116.62 L352.78,116.62 L353.96,116.61 L355.14,116.6 L356.32,116.59 L357.5,116.58" stroke="#8a5a40" stroke-width="0.9"/>
</g>
<text transform="translate(281.25,8.4) scale(1,1.1)" font-size="5.5" text-anchor="middle">CEC2017-F9 (<tspan font-style="italic">dim</tspan>=30)</text>
<text transform="translate(281.25,132.2) scale(1,1.1)" font-size="5.2" text-anchor="middle">Iteration</text>
<text transform="translate(194.2,61.6) rotate(-90)" text-anchor="middle" font-size="5.8">Average fitness value</text>
<rect x="319.1" y="13.3" width="35.8" height="27.95" fill="#fff" stroke="#222" stroke-width="0.8"/>
<path d="M320.4,16.65h12.8" stroke="#222222" stroke-width="1.1"/>
<text transform="translate(334.2,18.05) scale(1,1.1)" font-size="4.4">SPBO</text>
<path d="M320.4,22.1h12.8" stroke="#a6d08a" stroke-width="0.95"/>
<text transform="translate(334.2,23.5) scale(1,1.1)" font-size="4.4">ESPBO-S1</text>
<path d="M320.4,27.55h12.8" stroke="#a49ce0" stroke-width="0.95"/>
<text transform="translate(334.2,28.95) scale(1,1.1)" font-size="4.4">ESPBO-S2</text>
<path d="M320.4,33h12.8" stroke="#8ea4c8" stroke-width="0.95"/>
<text transform="translate(334.2,34.4) scale(1,1.1)" font-size="4.4">ESPBO-S3</text>
<path d="M320.4,38.45h12.8" stroke="#8a5a40" stroke-width="0.95"/>
<text transform="translate(334.2,39.85) scale(1,1.1)" font-size="4.4">ESPBO</text>
<clipPath id="c3"><rect x="394.5" y="11.5" width="145" height="104.5"/></clipPath>
<rect x="394.5" y="11.5" width="145" height="104.5" fill="none" stroke="#262626" stroke-width="0.9"/>
<text transform="translate(409,122.8) scale(1,1.1)" font-size="5" text-anchor="middle">50</text>
<text transform="translate(423.5,122.8) scale(1,1.1)" font-size="5" text-anchor="middle">100</text>
<text transform="translate(438,122.8) scale(1,1.1)" font-size="5" text-anchor="middle">150</text>
<text transform="translate(452.5,122.8) scale(1,1.1)" font-size="5" text-anchor="middle">200</text>
<text transform="translate(467,122.8) scale(1,1.1)" font-size="5" text-anchor="middle">250</text>
<text transform="translate(481.5,122.8) scale(1,1.1)" font-size="5" text-anchor="middle">300</text>
<text transform="translate(496,122.8) scale(1,1.1)" font-size="5" text-anchor="middle">350</text>
<text transform="translate(510.5,122.8) scale(1,1.1)" font-size="5" text-anchor="middle">400</text>
<text transform="translate(525,122.8) scale(1,1.1)" font-size="5" text-anchor="middle">450</text>
<text transform="translate(539.5,122.8) scale(1,1.1)" font-size="5" text-anchor="middle">500</text>
<text transform="translate(393,115.3) scale(1,1.1)" font-size="5" text-anchor="end">3000</text>
<text transform="translate(393,88.88) scale(1,1.1)" font-size="5" text-anchor="end">4000</text>
<text transform="translate(393,68.38) scale(1,1.1)" font-size="5" text-anchor="end">5000</text>
<text transform="translate(393,51.63) scale(1,1.1)" font-size="5" text-anchor="end">6000</text>
<text transform="translate(393,37.47) scale(1,1.1)" font-size="5" text-anchor="end">7000</text>
<text transform="translate(393,25.21) scale(1,1.1)" font-size="5" text-anchor="end">8000</text>
<text transform="translate(393,14.39) scale(1,1.1)" font-size="5" text-anchor="end">9000</text>
<path d="M409,116v-1.5 M409,11.5v1.5 M423.5,116v-1.5 M423.5,11.5v1.5 M438,116v-1.5 M438,11.5v1.5 M452.5,116v-1.5 M452.5,11.5v1.5 M467,116v-1.5 M467,11.5v1.5 M481.5,116v-1.5 M481.5,11.5v1.5 M496,116v-1.5 M496,11.5v1.5 M510.5,116v-1.5 M510.5,11.5v1.5 M525,116v-1.5 M525,11.5v1.5 M539.5,116v-1.5 M539.5,11.5v1.5 M394.5,113h1.5 M539.5,113h-1.5 M394.5,86.58h1.5 M539.5,86.58h-1.5 M394.5,66.08h1.5 M539.5,66.08h-1.5 M394.5,49.33h1.5 M539.5,49.33h-1.5 M394.5,35.17h1.5 M539.5,35.17h-1.5 M394.5,22.91h1.5 M539.5,22.91h-1.5 M394.5,12.09h1.5 M539.5,12.09h-1.5" stroke="#262626" stroke-width="0.6" fill="none"/>
<path d="M394.5,116.11h0.9 M539.5,116.11h-0.9 M394.5,109.99h0.9 M539.5,109.99h-0.9 M394.5,107.07h0.9 M539.5,107.07h-0.9 M394.5,104.25h0.9 M539.5,104.25h-0.9 M394.5,101.5h0.9 M539.5,101.5h-0.9 M394.5,98.84h0.9 M539.5,98.84h-0.9 M394.5,96.25h0.9 M539.5,96.25h-0.9 M394.5,93.74h0.9 M539.5,93.74h-0.9 M394.5,91.29h0.9 M539.5,91.29h-0.9 M394.5,88.9h0.9 M539.5,88.9h-0.9 M394.5,84.31h0.9 M539.5,84.31h-0.9 M394.5,82.09h0.9 M539.5,82.09h-0.9 M394.5,79.93h0.9 M539.5,79.93h-0.9 M394.5,77.82h0.9 M539.5,77.82h-0.9 M394.5,75.76h0.9 M539.5,75.76h-0.9 M394.5,73.74h0.9 M539.5,73.74h-0.9 M394.5,71.76h0.9 M539.5,71.76h-0.9 M394.5,69.83h0.9 M539.5,69.83h-0.9 M394.5,67.93h0.9 M539.5,67.93h-0.9 M394.5,64.26h0.9 M539.5,64.26h-0.9 M394.5,62.48h0.9 M539.5,62.48h-0.9 M394.5,60.73h0.9 M539.5,60.73h-0.9 M394.5,59.01h0.9 M539.5,59.01h-0.9 M394.5,57.32h0.9 M539.5,57.32h-0.9 M394.5,55.67h0.9 M539.5,55.67h-0.9 M394.5,54.04h0.9 M539.5,54.04h-0.9 M394.5,52.45h0.9 M539.5,52.45h-0.9 M394.5,50.88h0.9 M539.5,50.88h-0.9 M394.5,47.81h0.9 M539.5,47.81h-0.9 M394.5,46.32h0.9 M539.5,46.32h-0.9 M394.5,44.85h0.9 M539.5,44.85h-0.9 M394.5,43.4h0.9 M539.5,43.4h-0.9 M394.5,41.98h0.9 M539.5,41.98h-0.9 M394.5,40.58h0.9 M539.5,40.58h-0.9 M394.5,39.2h0.9 M539.5,39.2h-0.9 M394.5,37.84h0.9 M539.5,37.84h-0.9 M394.5,36.49h0.9 M539.5,36.49h-0.9 M394.5,33.87h0.9 M539.5,33.87h-0.9 M394.5,32.59h0.9 M539.5,32.59h-0.9 M394.5,31.32h0.9 M539.5,31.32h-0.9 M394.5,30.07h0.9 M539.5,30.07h-0.9 M394.5,28.84h0.9 M539.5,28.84h-0.9 M394.5,27.62h0.9 M539.5,27.62h-0.9 M394.5,26.42h0.9 M539.5,26.42h-0.9 M394.5,25.23h0.9 M539.5,25.23h-0.9 M394.5,24.06h0.9 M539.5,24.06h-0.9 M394.5,21.77h0.9 M539.5,21.77h-0.9 M394.5,20.64h0.9 M539.5,20.64h-0.9 M394.5,19.53h0.9 M539.5,19.53h-0.9 M394.5,18.43h0.9 M539.5,18.43h-0.9 M394.5,17.34h0.9 M539.5,17.34h-0.9 M394.5,16.26h0.9 M539.5,16.26h-0.9 M394.5,15.2h0.9 M539.5,15.2h-0.9 M394.5,14.15h0.9 M539.5,14.15h-0.9 M394.5,13.12h0.9 M539.5,13.12h-0.9" stroke="#262626" stroke-width="0.5" fill="none"/>
<g clip-path="url(#c3)" fill="none" stroke-linejoin="round">
<path d="M394.7,13.01 L394.9,18.25 L395.1,22.37 L395.3,25.77 L395.5,28.68 L395.7,31.21 L395.9,33.47 L396.1,35.5 L396.3,37.36 L396.5,39.06 L396.7,40.65 L396.9,42.12 L397.1,43.5 L397.3,44.81 L397.5,46.04 L397.7,47.21 L397.9,48.33 L398.1,49.39 L398.3,50.41 L398.5,51.39 L398.7,52.33 L398.9,53.23 L399.1,54.1 L399.3,54.95 L399.5,55.76 L399.7,56.56 L399.9,57.32 L400.1,58.07 L400.3,58.8 L400.5,59.5 L400.7,60.19 L400.9,60.86 L401.1,61.51 L401.3,62.15 L401.5,62.78 L401.7,63.39 L401.9,63.98 L402.1,64.57 L402.3,65.14 L402.5,65.7 L402.7,66.25 L402.9,66.78 L403.1,67.31 L403.3,67.82 L403.5,68.32 L403.7,68.81 L403.9,69.29 L404.1,69.76 L404.3,70.22 L404.5,70.68 L404.7,71.12 L404.9,71.55 L405.1,71.98 L405.3,72.39 L405.5,72.8 L405.7,73.2 L405.9,73.59 L406.1,73.98 L406.3,74.35 L406.5,74.72 L407.62,76.65 L408.74,78.39 L409.85,79.95 L410.97,81.37 L412.09,82.64 L413.21,83.8 L414.32,84.84 L415.44,85.79 L416.56,86.65 L417.68,87.43 L418.79,88.14 L419.91,88.78 L421.03,89.36 L422.15,89.89 L423.26,90.36 L424.38,90.79 L425.5,91.17 L426.62,91.52 L427.74,91.83 L428.85,92.11 L429.97,92.36 L431.09,92.59 L432.21,92.8 L433.32,93 L434.44,93.17 L435.56,93.34 L436.68,93.49 L437.79,93.63 L438.91,93.75 L440.03,93.88 L441.15,93.99 L442.26,94.09 L443.38,94.19 L444.5,94.29 L445.62,94.38 L446.74,94.46 L447.85,94.54 L448.97,94.62 L450.09,94.7 L451.21,94.77 L452.32,94.84 L453.44,94.91 L454.56,94.98 L455.68,95.05 L456.79,95.11 L457.91,95.18 L459.03,95.24 L460.15,95.31 L461.26,95.37 L462.38,95.44 L463.5,95.5 L464.62,95.56 L465.74,95.63 L466.85,95.69 L467.97,95.76 L469.09,95.83 L470.21,95.89 L471.32,95.96 L472.44,96.03 L473.56,96.1 L474.68,96.16 L475.79,96.23 L476.91,96.31 L478.03,96.38 L479.15,96.45 L480.26,96.52 L481.38,96.59 L482.5,96.67 L483.62,96.74 L484.74,96.81 L485.85,96.89 L486.97,96.96 L488.09,97.03 L489.21,97.1 L490.32,97.17 L491.44,97.24 L492.56,97.31 L493.68,97.38 L494.79,97.44 L495.91,97.51 L497.03,97.57 L498.15,97.64 L499.26,97.7 L500.38,97.76 L501.5,97.82 L502.62,97.88 L503.74,97.93 L504.85,97.99 L505.97,98.04 L507.09,98.1 L508.21,98.15 L509.32,98.2 L510.44,98.24 L511.56,98.29 L512.68,98.34 L513.79,98.38 L514.91,98.42 L516.03,98.46 L517.15,98.5 L518.26,98.54 L519.38,98.57 L520.5,98.61 L521.62,98.64 L522.74,98.67 L523.85,98.7 L524.97,98.73 L526.09,98.75 L527.21,98.78 L528.32,98.8 L529.44,98.82 L530.56,98.84 L531.68,98.86 L532.79,98.87 L533.91,98.89 L535.03,98.9 L536.15,98.91 L537.26,98.92 L538.38,98.93 L539.5,98.94" stroke="#222222" stroke-width="1.0"/>
<path d="M394.7,13 L394.9,18.95 L395.1,23.35 L395.3,26.84 L395.5,29.75 L395.7,32.27 L395.9,34.49 L396.1,36.5 L396.3,38.35 L396.5,40.06 L396.7,41.66 L396.9,43.15 L397.1,44.57 L397.3,45.9 L397.5,47.17 L397.7,48.37 L397.9,49.53 L398.1,50.63 L398.3,51.68 L398.5,52.7 L398.7,53.67 L398.9,54.61 L399.1,55.52 L399.3,56.4 L399.5,57.25 L399.7,58.07 L399.9,58.87 L400.1,59.65 L400.3,60.4 L400.5,61.14 L400.7,61.85 L400.9,62.55 L401.1,63.23 L401.3,63.89 L401.5,64.54 L401.7,65.17 L401.9,65.79 L402.1,66.39 L402.3,66.98 L402.5,67.56 L402.7,68.12 L402.9,68.68 L403.1,69.21 L403.3,69.74 L403.5,70.26 L403.7,70.76 L403.9,71.26 L404.1,71.74 L404.3,72.21 L404.5,72.68 L404.7,73.13 L404.9,73.57 L405.1,74 L405.3,74.43 L405.5,74.84 L405.7,75.25 L405.9,75.65 L406.1,76.04 L406.3,76.42 L406.5,76.8 L407.62,78.75 L408.74,80.5 L409.85,82.06 L410.97,83.46 L412.09,84.72 L413.21,85.85 L414.32,86.87 L415.44,87.78 L416.56,88.61 L417.68,89.35 L418.79,90.01 L419.91,90.62 L421.03,91.18 L422.15,91.68 L423.26,92.15 L424.38,92.58 L425.5,92.97 L426.62,93.34 L427.74,93.68 L428.85,94 L429.97,94.29 L431.09,94.57 L432.21,94.83 L433.32,95.07 L434.44,95.31 L435.56,95.52 L436.68,95.73 L437.79,95.92 L438.91,96.11 L440.03,96.29 L441.15,96.46 L442.26,96.62 L443.38,96.77 L444.5,96.92 L445.62,97.06 L446.74,97.2 L447.85,97.33 L448.97,97.46 L450.09,97.58 L451.21,97.7 L452.32,97.82 L453.44,97.93 L454.56,98.04 L455.68,98.15 L456.79,98.25 L457.91,98.36 L459.03,98.46 L460.15,98.55 L461.26,98.65 L462.38,98.74 L463.5,98.83 L464.62,98.92 L465.74,99.01 L466.85,99.09 L467.97,99.18 L469.09,99.26 L470.21,99.34 L471.32,99.42 L472.44,99.5 L473.56,99.57 L474.68,99.64 L475.79,99.72 L476.91,99.79 L478.03,99.86 L479.15,99.92 L480.26,99.99 L481.38,100.06 L482.5,100.12 L483.62,100.18 L484.74,100.24 L485.85,100.3 L486.97,100.36 L488.09,100.42 L489.21,100.48 L490.32,100.53 L491.44,100.59 L492.56,100.64 L493.68,100.69 L494.79,100.74 L495.91,100.79 L497.03,100.84 L498.15,100.89 L499.26,100.94 L500.38,100.99 L501.5,101.03 L502.62,101.08 L503.74,101.12 L504.85,101.16 L505.97,101.2 L507.09,101.25 L508.21,101.29 L509.32,101.32 L510.44,101.36 L511.56,101.4 L512.68,101.44 L513.79,101.48 L514.91,101.51 L516.03,101.55 L517.15,101.58 L518.26,101.61 L519.38,101.65 L520.5,101.68 L521.62,101.71 L522.74,101.74 L523.85,101.77 L524.97,101.8 L526.09,101.83 L527.21,101.86 L528.32,101.89 L529.44,101.92 L530.56,101.94 L531.68,101.97 L532.79,101.99 L533.91,102.02 L535.03,102.04 L536.15,102.07 L537.26,102.09 L538.38,102.12 L539.5,102.14" stroke="#c6d88c" stroke-width="0.9"/>
<path d="M394.7,13.97 L394.9,22.4 L395.1,27.97 L395.3,31.99 L395.5,35.08 L395.7,37.58 L395.9,39.68 L396.1,41.51 L396.3,43.14 L396.5,44.62 L396.7,46 L396.9,47.3 L397.1,48.54 L397.3,49.73 L397.5,50.9 L397.7,52.04 L397.9,53.17 L398.1,54.28 L398.3,55.38 L398.5,56.47 L398.7,57.56 L398.9,58.65 L399.1,59.72 L399.3,60.78 L399.5,61.82 L399.7,62.84 L399.9,63.84 L400.1,64.81 L400.3,65.76 L400.5,66.68 L400.7,67.57 L400.9,68.44 L401.1,69.27 L401.3,70.08 L401.5,70.87 L401.7,71.62 L401.9,72.35 L402.1,73.05 L402.3,73.73 L402.5,74.38 L402.7,75.02 L402.9,75.63 L403.1,76.23 L403.3,76.8 L403.5,77.36 L403.7,77.9 L403.9,78.43 L404.1,78.94 L404.3,79.43 L404.5,79.91 L404.7,80.38 L404.9,80.83 L405.1,81.28 L405.3,81.71 L405.5,82.12 L405.7,82.53 L405.9,82.92 L406.1,83.31 L406.3,83.68 L406.5,84.05 L407.62,85.93 L408.74,87.56 L409.85,89 L410.97,90.26 L412.09,91.37 L413.21,92.36 L414.32,93.23 L415.44,94.01 L416.56,94.7 L417.68,95.32 L418.79,95.87 L419.91,96.36 L421.03,96.81 L422.15,97.22 L423.26,97.58 L424.38,97.92 L425.5,98.22 L426.62,98.5 L427.74,98.76 L428.85,98.99 L429.97,99.21 L431.09,99.41 L432.21,99.59 L433.32,99.76 L434.44,99.92 L435.56,100.07 L436.68,100.2 L437.79,100.33 L438.91,100.45 L440.03,100.57 L441.15,100.67 L442.26,100.77 L443.38,100.87 L444.5,100.96 L445.62,101.04 L446.74,101.12 L447.85,101.2 L448.97,101.27 L450.09,101.34 L451.21,101.4 L452.32,101.47 L453.44,101.53 L454.56,101.59 L455.68,101.64 L456.79,101.7 L457.91,101.75 L459.03,101.8 L460.15,101.85 L461.26,101.9 L462.38,101.95 L463.5,101.99 L464.62,102.04 L465.74,102.08 L466.85,102.12 L467.97,102.16 L469.09,102.21 L470.21,102.25 L471.32,102.29 L472.44,102.33 L473.56,102.37 L474.68,102.41 L475.79,102.44 L476.91,102.48 L478.03,102.52 L479.15,102.56 L480.26,102.6 L481.38,102.63 L482.5,102.67 L483.62,102.71 L484.74,102.74 L485.85,102.78 L486.97,102.82 L488.09,102.86 L489.21,102.89 L490.32,102.93 L491.44,102.97 L492.56,103 L493.68,103.04 L494.79,103.08 L495.91,103.12 L497.03,103.15 L498.15,103.19 L499.26,103.23 L500.38,103.27 L501.5,103.3 L502.62,103.34 L503.74,103.38 L504.85,103.42 L505.97,103.46 L507.09,103.5 L508.21,103.54 L509.32,103.58 L510.44,103.62 L511.56,103.65 L512.68,103.69 L513.79,103.73 L514.91,103.77 L516.03,103.81 L517.15,103.86 L518.26,103.9 L519.38,103.94 L520.5,103.98 L521.62,104.02 L522.74,104.06 L523.85,104.1 L524.97,104.15 L526.09,104.19 L527.21,104.23 L528.32,104.27 L529.44,104.32 L530.56,104.36 L531.68,104.4 L532.79,104.45 L533.91,104.49 L535.03,104.53 L536.15,104.58 L537.26,104.62 L538.38,104.67 L539.5,104.71" stroke="#8c8ed4" stroke-width="0.9"/>
<path d="M394.7,14.06 L394.9,22.4 L395.1,27.84 L395.3,31.75 L395.5,34.76 L395.7,37.24 L395.9,39.36 L396.1,41.25 L396.3,42.97 L396.5,44.58 L396.7,46.11 L396.9,47.57 L397.1,48.96 L397.3,50.3 L397.5,51.6 L397.7,52.85 L397.9,54.07 L398.1,55.25 L398.3,56.39 L398.5,57.51 L398.7,58.6 L398.9,59.67 L399.1,60.7 L399.3,61.71 L399.5,62.7 L399.7,63.66 L399.9,64.59 L400.1,65.49 L400.3,66.37 L400.5,67.23 L400.7,68.06 L400.9,68.87 L401.1,69.65 L401.3,70.41 L401.5,71.15 L401.7,71.87 L401.9,72.56 L402.1,73.24 L402.3,73.9 L402.5,74.54 L402.7,75.16 L402.9,75.76 L403.1,76.35 L403.3,76.93 L403.5,77.49 L403.7,78.03 L403.9,78.56 L404.1,79.08 L404.3,79.58 L404.5,80.07 L404.7,80.55 L404.9,81.02 L405.1,81.47 L405.3,81.92 L405.5,82.35 L405.7,82.78 L405.9,83.19 L406.1,83.6 L406.3,83.99 L406.5,84.38 L407.62,86.38 L408.74,88.15 L409.85,89.72 L410.97,91.12 L412.09,92.37 L413.21,93.48 L414.32,94.47 L415.44,95.36 L416.56,96.16 L417.68,96.87 L418.79,97.51 L419.91,98.09 L421.03,98.62 L422.15,99.1 L423.26,99.53 L424.38,99.93 L425.5,100.3 L426.62,100.63 L427.74,100.94 L428.85,101.22 L429.97,101.48 L431.09,101.72 L432.21,101.94 L433.32,102.15 L434.44,102.34 L435.56,102.52 L436.68,102.69 L437.79,102.84 L438.91,102.99 L440.03,103.13 L441.15,103.25 L442.26,103.37 L443.38,103.48 L444.5,103.59 L445.62,103.69 L446.74,103.78 L447.85,103.87 L448.97,103.95 L450.09,104.03 L451.21,104.1 L452.32,104.17 L453.44,104.24 L454.56,104.3 L455.68,104.36 L456.79,104.42 L457.91,104.48 L459.03,104.53 L460.15,104.58 L461.26,104.63 L462.38,104.67 L463.5,104.71 L464.62,104.76 L465.74,104.8 L466.85,104.84 L467.97,104.87 L469.09,104.91 L470.21,104.94 L471.32,104.98 L472.44,105.01 L473.56,105.04 L474.68,105.07 L475.79,105.1 L476.91,105.13 L478.03,105.16 L479.15,105.19 L480.26,105.22 L481.38,105.24 L482.5,105.27 L483.62,105.29 L484.74,105.32 L485.85,105.34 L486.97,105.37 L488.09,105.39 L489.21,105.42 L490.32,105.44 L491.44,105.46 L492.56,105.48 L493.68,105.51 L494.79,105.53 L495.91,105.55 L497.03,105.57 L498.15,105.6 L499.26,105.62 L500.38,105.64 L501.5,105.66 L502.62,105.68 L503.74,105.7 L504.85,105.73 L505.97,105.75 L507.09,105.77 L508.21,105.79 L509.32,105.81 L510.44,105.83 L511.56,105.85 L512.68,105.88 L513.79,105.9 L514.91,105.92 L516.03,105.94 L517.15,105.96 L518.26,105.98 L519.38,106 L520.5,106.03 L521.62,106.05 L522.74,106.07 L523.85,106.09 L524.97,106.11 L526.09,106.14 L527.21,106.16 L528.32,106.18 L529.44,106.2 L530.56,106.23 L531.68,106.25 L532.79,106.27 L533.91,106.3 L535.03,106.32 L536.15,106.34 L537.26,106.36 L538.38,106.39 L539.5,106.41" stroke="#e6b8e0" stroke-width="0.9"/>
<path d="M394.7,15 L394.9,23.07 L395.1,28.78 L395.3,32.9 L395.5,36.03 L395.7,38.57 L395.9,40.73 L396.1,42.64 L396.3,44.38 L396.5,46 L396.7,47.47 L396.9,48.76 L397.1,49.93 L397.3,51.02 L397.5,52.06 L397.7,53.07 L397.9,54.06 L398.1,55.04 L398.3,56.02 L398.5,57 L398.7,58 L398.9,59.04 L399.1,60.12 L399.3,61.23 L399.5,62.36 L399.7,63.48 L399.9,64.58 L400.1,65.67 L400.3,66.72 L400.5,67.73 L400.7,68.71 L400.9,69.63 L401.1,70.52 L401.3,71.35 L401.5,72.13 L401.7,72.86 L401.9,73.56 L402.1,74.24 L402.3,74.9 L402.5,75.54 L402.7,76.15 L402.9,76.75 L403.1,77.33 L403.3,77.89 L403.5,78.44 L403.7,78.97 L403.9,79.49 L404.1,79.99 L404.3,80.48 L404.5,80.96 L404.7,81.42 L404.9,81.88 L405.1,82.32 L405.3,82.76 L405.5,83.18 L405.7,83.59 L405.9,84 L406.1,84.4 L406.3,84.79 L406.5,85.17 L407.62,87.18 L408.74,88.95 L409.85,90.49 L410.97,91.83 L412.09,93.03 L413.21,94.11 L414.32,95.08 L415.44,95.96 L416.56,96.76 L417.68,97.48 L418.79,98.15 L419.91,98.76 L421.03,99.32 L422.15,99.85 L423.26,100.34 L424.38,100.79 L425.5,101.22 L426.62,101.64 L427.74,102.05 L428.85,102.45 L429.97,102.84 L431.09,103.22 L432.21,103.59 L433.32,103.95 L434.44,104.32 L435.56,104.69 L436.68,105.07 L437.79,105.49 L438.91,105.89 L440.03,106.21 L441.15,106.47 L442.26,106.7 L443.38,106.92 L444.5,107.13 L445.62,107.32 L446.74,107.49 L447.85,107.66 L448.97,107.82 L450.09,107.96 L451.21,108.11 L452.32,108.24 L453.44,108.37 L454.56,108.5 L455.68,108.63 L456.79,108.75 L457.91,108.87 L459.03,108.99 L460.15,109.11 L461.26,109.22 L462.38,109.33 L463.5,109.44 L464.62,109.55 L465.74,109.65 L466.85,109.75 L467.97,109.84 L469.09,109.93 L470.21,110.02 L471.32,110.1 L472.44,110.18 L473.56,110.25 L474.68,110.31 L475.79,110.37 L476.91,110.42 L478.03,110.47 L479.15,110.52 L480.26,110.56 L481.38,110.61 L482.5,110.64 L483.62,110.68 L484.74,110.72 L485.85,110.75 L486.97,110.78 L488.09,110.81 L489.21,110.85 L490.32,110.88 L491.44,110.91 L492.56,110.94 L493.68,110.98 L494.79,111.01 L495.91,111.04 L497.03,111.07 L498.15,111.1 L499.26,111.13 L500.38,111.16 L501.5,111.19 L502.62,111.22 L503.74,111.25 L504.85,111.28 L505.97,111.31 L507.09,111.34 L508.21,111.37 L509.32,111.4 L510.44,111.43 L511.56,111.47 L512.68,111.5 L513.79,111.53 L514.91,111.56 L516.03,111.58 L517.15,111.61 L518.26,111.63 L519.38,111.66 L520.5,111.7 L521.62,111.74 L522.74,111.8 L523.85,111.86 L524.97,111.95 L526.09,112.19 L527.21,112.54 L528.32,112.94 L529.44,113.43 L530.56,114.06 L531.68,114.66 L532.79,115.1 L533.91,115.47 L535.03,115.81 L536.15,116.13 L537.26,116.44 L538.38,116.73 L539.5,117" stroke="#8a4e34" stroke-width="0.9"/>
</g>
<text transform="translate(467,9.9) scale(1,1.1)" font-size="5.3" text-anchor="middle">CEC2017-F10 (<tspan font-style="italic">dim</tspan>=30)</text>
<text transform="translate(467,130) scale(1,1.1)" font-size="5.2" text-anchor="middle">Iteration</text>
<text transform="translate(380.6,65.75) rotate(-90)" text-anchor="middle" font-size="5.8">Average fitness value</text>
<rect x="501.5" y="15.5" width="35.8" height="26.4" fill="#fff" stroke="#222" stroke-width="0.8"/>
<path d="M502.8,18.67h12.8" stroke="#222222" stroke-width="1.1"/>
<text transform="translate(516.6,20.07) scale(1,1.1)" font-size="4.4">SPBO</text>
<path d="M502.8,23.82h12.8" stroke="#c6d88c" stroke-width="0.95"/>
<text transform="translate(516.6,25.22) scale(1,1.1)" font-size="4.4">ESPBO-S1</text>
<path d="M502.8,28.96h12.8" stroke="#8c8ed4" stroke-width="0.95"/>
<text transform="translate(516.6,30.36) scale(1,1.1)" font-size="4.4">ESPBO-S2</text>
<path d="M502.8,34.11h12.8" stroke="#e6b8e0" stroke-width="0.95"/>
<text transform="translate(516.6,35.51) scale(1,1.1)" font-size="4.4">ESPBO-S3</text>
<path d="M502.8,39.26h12.8" stroke="#8a4e34" stroke-width="0.95"/>
<text transform="translate(516.6,40.66) scale(1,1.1)" font-size="4.4">ESPBO</text>
<clipPath id="c4"><rect x="18" y="140.9" width="157" height="111.6"/></clipPath>
<rect x="18" y="140.9" width="157" height="111.6" fill="none" stroke="#262626" stroke-width="0.9"/>
<text transform="translate(33.7,259.3) scale(1,1.1)" font-size="5" text-anchor="middle">50</text>
<text transform="translate(49.4,259.3) scale(1,1.1)" font-size="5" text-anchor="middle">100</text>
<text transform="translate(65.1,259.3) scale(1,1.1)" font-size="5" text-anchor="middle">150</text>
<text transform="translate(80.8,259.3) scale(1,1.1)" font-size="5" text-anchor="middle">200</text>
<text transform="translate(96.5,259.3) scale(1,1.1)" font-size="5" text-anchor="middle">250</text>
<text transform="translate(112.2,259.3) scale(1,1.1)" font-size="5" text-anchor="middle">300</text>
<text transform="translate(127.9,259.3) scale(1,1.1)" font-size="5" text-anchor="middle">350</text>
<text transform="translate(143.6,259.3) scale(1,1.1)" font-size="5" text-anchor="middle">400</text>
<text transform="translate(159.3,259.3) scale(1,1.1)" font-size="5" text-anchor="middle">450</text>
<text transform="translate(175,259.3) scale(1,1.1)" font-size="5" text-anchor="middle">500</text>
<text transform="translate(16,253.6) scale(1,1.1)" text-anchor="end" font-size="5.0">10<tspan dy="-2.1" font-size="3.5">5</tspan></text>
<text transform="translate(16,222.27) scale(1,1.1)" text-anchor="end" font-size="5.0">10<tspan dy="-2.1" font-size="3.5">6</tspan></text>
<text transform="translate(16,190.94) scale(1,1.1)" text-anchor="end" font-size="5.0">10<tspan dy="-2.1" font-size="3.5">7</tspan></text>
<text transform="translate(16,159.61) scale(1,1.1)" text-anchor="end" font-size="5.0">10<tspan dy="-2.1" font-size="3.5">8</tspan></text>
<path d="M33.7,252.5v-1.5 M33.7,140.9v1.5 M49.4,252.5v-1.5 M49.4,140.9v1.5 M65.1,252.5v-1.5 M65.1,140.9v1.5 M80.8,252.5v-1.5 M80.8,140.9v1.5 M96.5,252.5v-1.5 M96.5,140.9v1.5 M112.2,252.5v-1.5 M112.2,140.9v1.5 M127.9,252.5v-1.5 M127.9,140.9v1.5 M143.6,252.5v-1.5 M143.6,140.9v1.5 M159.3,252.5v-1.5 M159.3,140.9v1.5 M175,252.5v-1.5 M175,140.9v1.5 M18,251.3h1.5 M175,251.3h-1.5 M18,219.97h1.5 M175,219.97h-1.5 M18,188.64h1.5 M175,188.64h-1.5 M18,157.31h1.5 M175,157.31h-1.5" stroke="#262626" stroke-width="0.6" fill="none"/>
<path d="M18,241.87h0.9 M175,241.87h-0.9 M18,236.35h0.9 M175,236.35h-0.9 M18,232.44h0.9 M175,232.44h-0.9 M18,229.4h0.9 M175,229.4h-0.9 M18,226.92h0.9 M175,226.92h-0.9 M18,224.82h0.9 M175,224.82h-0.9 M18,223.01h0.9 M175,223.01h-0.9 M18,221.4h0.9 M175,221.4h-0.9 M18,210.54h0.9 M175,210.54h-0.9 M18,205.02h0.9 M175,205.02h-0.9 M18,201.11h0.9 M175,201.11h-0.9 M18,198.07h0.9 M175,198.07h-0.9 M18,195.59h0.9 M175,195.59h-0.9 M18,193.49h0.9 M175,193.49h-0.9 M18,191.68h0.9 M175,191.68h-0.9 M18,190.07h0.9 M175,190.07h-0.9 M18,179.21h0.9 M175,179.21h-0.9 M18,173.69h0.9 M175,173.69h-0.9 M18,169.78h0.9 M175,169.78h-0.9 M18,166.74h0.9 M175,166.74h-0.9 M18,164.26h0.9 M175,164.26h-0.9 M18,162.16h0.9 M175,162.16h-0.9 M18,160.35h0.9 M175,160.35h-0.9 M18,158.74h0.9 M175,158.74h-0.9 M18,147.88h0.9 M175,147.88h-0.9 M18,142.36h0.9 M175,142.36h-0.9" stroke="#262626" stroke-width="0.5" fill="none"/>
<g clip-path="url(#c4)" fill="none" stroke-linejoin="round">
<path d="M18.3,142.93 L18.5,148.81 L18.7,156.38 L18.89,163.81 L19.09,170.43 L19.29,176.03 L19.49,180.59 L19.69,184.15 L19.89,186.82 L20.08,188.86 L20.28,190.47 L20.48,191.8 L20.68,192.96 L20.88,194.02 L21.08,195.03 L21.27,196.03 L21.47,197.01 L21.67,197.96 L21.87,198.87 L22.07,199.73 L22.27,200.55 L22.46,201.31 L22.66,202.02 L22.86,202.68 L23.06,203.29 L23.26,203.87 L23.46,204.41 L23.65,204.91 L23.85,205.39 L24.05,205.84 L24.25,206.26 L24.45,206.66 L24.65,207.04 L24.84,207.4 L25.04,207.74 L25.24,208.07 L25.44,208.38 L25.64,208.67 L25.84,208.95 L26.03,209.22 L26.23,209.48 L26.43,209.73 L26.63,209.97 L26.83,210.2 L27.03,210.42 L27.22,210.63 L27.42,210.83 L27.62,211.03 L27.82,211.22 L28.02,211.4 L28.22,211.58 L28.41,211.75 L28.61,211.91 L28.81,212.08 L29.01,212.23 L29.21,212.38 L29.41,212.53 L29.6,212.67 L29.8,212.81 L30,212.95 L31.22,213.71 L32.44,214.37 L33.66,214.95 L34.87,215.48 L36.09,215.97 L37.31,216.42 L38.53,216.84 L39.75,217.24 L40.97,217.62 L42.18,217.99 L43.4,218.34 L44.62,218.67 L45.84,219 L47.06,219.31 L48.28,219.6 L49.5,219.89 L50.71,220.17 L51.93,220.44 L53.15,220.69 L54.37,220.94 L55.59,221.18 L56.81,221.41 L58.03,221.64 L59.24,221.86 L60.46,222.07 L61.68,222.27 L62.9,222.47 L64.12,222.66 L65.34,222.85 L66.55,223.03 L67.77,223.21 L68.99,223.38 L70.21,223.54 L71.43,223.71 L72.65,223.86 L73.87,224.02 L75.08,224.17 L76.3,224.31 L77.52,224.45 L78.74,224.59 L79.96,224.72 L81.18,224.85 L82.39,224.98 L83.61,225.11 L84.83,225.23 L86.05,225.35 L87.27,225.46 L88.49,225.58 L89.71,225.69 L90.92,225.8 L92.14,225.9 L93.36,226 L94.58,226.1 L95.8,226.2 L97.02,226.3 L98.24,226.39 L99.45,226.49 L100.67,226.58 L101.89,226.66 L103.11,226.75 L104.33,226.84 L105.55,226.92 L106.76,227 L107.98,227.08 L109.2,227.16 L110.42,227.23 L111.64,227.31 L112.86,227.38 L114.08,227.45 L115.29,227.52 L116.51,227.59 L117.73,227.66 L118.95,227.72 L120.17,227.79 L121.39,227.85 L122.61,227.91 L123.82,227.97 L125.04,228.03 L126.26,228.09 L127.48,228.15 L128.7,228.21 L129.92,228.26 L131.13,228.32 L132.35,228.37 L133.57,228.42 L134.79,228.47 L136.01,228.52 L137.23,228.57 L138.45,228.62 L139.66,228.67 L140.88,228.71 L142.1,228.76 L143.32,228.8 L144.54,228.85 L145.76,228.89 L146.97,228.93 L148.19,228.98 L149.41,229.02 L150.63,229.06 L151.85,229.1 L153.07,229.13 L154.29,229.17 L155.5,229.21 L156.72,229.25 L157.94,229.28 L159.16,229.32 L160.38,229.35 L161.6,229.38 L162.82,229.42 L164.03,229.45 L165.25,229.48 L166.47,229.51 L167.69,229.54 L168.91,229.57 L170.13,229.6 L171.34,229.63 L172.56,229.66 L173.78,229.69 L175,229.72" stroke="#222222" stroke-width="1.0"/>
<path d="M18.3,144.97 L18.5,141.77 L18.7,157.34 L18.89,170.88 L19.09,178.88 L19.29,183.71 L19.49,186.87 L19.69,189.2 L19.89,191.18 L20.08,192.94 L20.28,194.51 L20.48,195.92 L20.68,197.2 L20.88,198.36 L21.08,199.42 L21.27,200.39 L21.47,201.29 L21.67,202.12 L21.87,202.88 L22.07,203.6 L22.27,204.26 L22.46,204.88 L22.66,205.46 L22.86,206 L23.06,206.51 L23.26,206.99 L23.46,207.44 L23.65,207.87 L23.85,208.27 L24.05,208.65 L24.25,209.02 L24.45,209.37 L24.65,209.7 L24.84,210.02 L25.04,210.32 L25.24,210.61 L25.44,210.89 L25.64,211.15 L25.84,211.41 L26.03,211.66 L26.23,211.89 L26.43,212.12 L26.63,212.34 L26.83,212.56 L27.03,212.76 L27.22,212.96 L27.42,213.15 L27.62,213.34 L27.82,213.52 L28.02,213.7 L28.22,213.87 L28.41,214.04 L28.61,214.2 L28.81,214.36 L29.01,214.51 L29.21,214.66 L29.41,214.81 L29.6,214.95 L29.8,215.09 L30,215.22 L31.22,216 L32.44,216.68 L33.66,217.29 L34.87,217.85 L36.09,218.37 L37.31,218.84 L38.53,219.29 L39.75,219.71 L40.97,220.12 L42.18,220.5 L43.4,220.86 L44.62,221.21 L45.84,221.55 L47.06,221.87 L48.28,222.18 L49.5,222.48 L50.71,222.77 L51.93,223.05 L53.15,223.32 L54.37,223.58 L55.59,223.83 L56.81,224.08 L58.03,224.32 L59.24,224.55 L60.46,224.78 L61.68,225 L62.9,225.22 L64.12,225.43 L65.34,225.63 L66.55,225.83 L67.77,226.03 L68.99,226.22 L70.21,226.41 L71.43,226.59 L72.65,226.77 L73.87,226.94 L75.08,227.12 L76.3,227.29 L77.52,227.45 L78.74,227.61 L79.96,227.77 L81.18,227.93 L82.39,228.08 L83.61,228.24 L84.83,228.39 L86.05,228.53 L87.27,228.68 L88.49,228.82 L89.71,228.96 L90.92,229.09 L92.14,229.23 L93.36,229.36 L94.58,229.49 L95.8,229.62 L97.02,229.75 L98.24,229.88 L99.45,230 L100.67,230.12 L101.89,230.24 L103.11,230.36 L104.33,230.48 L105.55,230.6 L106.76,230.71 L107.98,230.83 L109.2,230.94 L110.42,231.05 L111.64,231.16 L112.86,231.26 L114.08,231.37 L115.29,231.48 L116.51,231.58 L117.73,231.68 L118.95,231.78 L120.17,231.88 L121.39,231.98 L122.61,232.08 L123.82,232.18 L125.04,232.28 L126.26,232.37 L127.48,232.47 L128.7,232.56 L129.92,232.65 L131.13,232.74 L132.35,232.83 L133.57,232.92 L134.79,233.01 L136.01,233.1 L137.23,233.19 L138.45,233.27 L139.66,233.36 L140.88,233.44 L142.1,233.53 L143.32,233.61 L144.54,233.69 L145.76,233.78 L146.97,233.86 L148.19,233.94 L149.41,234.02 L150.63,234.1 L151.85,234.17 L153.07,234.25 L154.29,234.33 L155.5,234.41 L156.72,234.48 L157.94,234.56 L159.16,234.63 L160.38,234.71 L161.6,234.78 L162.82,234.85 L164.03,234.92 L165.25,235 L166.47,235.07 L167.69,235.14 L168.91,235.21 L170.13,235.28 L171.34,235.35 L172.56,235.41 L173.78,235.48 L175,235.55" stroke="#c6d88c" stroke-width="0.9"/>
<path d="M18.3,145.96 L18.5,143.94 L18.7,160.17 L18.89,174.17 L19.09,182.51 L19.29,187.57 L19.49,190.85 L19.69,193.21 L19.89,195.15 L20.08,196.8 L20.28,198.24 L20.48,199.49 L20.68,200.59 L20.88,201.58 L21.08,202.46 L21.27,203.25 L21.47,203.98 L21.67,204.64 L21.87,205.24 L22.07,205.8 L22.27,206.32 L22.46,206.81 L22.66,207.26 L22.86,207.69 L23.06,208.09 L23.26,208.47 L23.46,208.83 L23.65,209.18 L23.85,209.51 L24.05,209.82 L24.25,210.12 L24.45,210.42 L24.65,210.7 L24.84,210.97 L25.04,211.23 L25.24,211.49 L25.44,211.74 L25.64,211.98 L25.84,212.22 L26.03,212.45 L26.23,212.67 L26.43,212.89 L26.63,213.11 L26.83,213.32 L27.03,213.52 L27.22,213.72 L27.42,213.92 L27.62,214.11 L27.82,214.3 L28.02,214.49 L28.22,214.67 L28.41,214.84 L28.61,215.02 L28.81,215.19 L29.01,215.36 L29.21,215.52 L29.41,215.68 L29.6,215.84 L29.8,216 L30,216.15 L31.22,217.04 L32.44,217.85 L33.66,218.6 L34.87,219.29 L36.09,219.92 L37.31,220.52 L38.53,221.08 L39.75,221.6 L40.97,222.09 L42.18,222.56 L43.4,223.01 L44.62,223.43 L45.84,223.83 L47.06,224.21 L48.28,224.58 L49.5,224.93 L50.71,225.27 L51.93,225.59 L53.15,225.9 L54.37,226.2 L55.59,226.49 L56.81,226.76 L58.03,227.03 L59.24,227.29 L60.46,227.53 L61.68,227.77 L62.9,228.01 L64.12,228.23 L65.34,228.45 L66.55,228.66 L67.77,228.86 L68.99,229.06 L70.21,229.25 L71.43,229.44 L72.65,229.62 L73.87,229.8 L75.08,229.97 L76.3,230.14 L77.52,230.3 L78.74,230.46 L79.96,230.61 L81.18,230.76 L82.39,230.91 L83.61,231.05 L84.83,231.19 L86.05,231.32 L87.27,231.45 L88.49,231.58 L89.71,231.71 L90.92,231.83 L92.14,231.95 L93.36,232.07 L94.58,232.18 L95.8,232.3 L97.02,232.41 L98.24,232.51 L99.45,232.62 L100.67,232.72 L101.89,232.82 L103.11,232.92 L104.33,233.02 L105.55,233.11 L106.76,233.2 L107.98,233.29 L109.2,233.38 L110.42,233.47 L111.64,233.55 L112.86,233.64 L114.08,233.72 L115.29,233.8 L116.51,233.88 L117.73,233.95 L118.95,234.03 L120.17,234.1 L121.39,234.17 L122.61,234.25 L123.82,234.32 L125.04,234.38 L126.26,234.45 L127.48,234.52 L128.7,234.58 L129.92,234.65 L131.13,234.71 L132.35,234.77 L133.57,234.83 L134.79,234.89 L136.01,234.95 L137.23,235.01 L138.45,235.06 L139.66,235.12 L140.88,235.17 L142.1,235.23 L143.32,235.28 L144.54,235.33 L145.76,235.38 L146.97,235.43 L148.19,235.48 L149.41,235.53 L150.63,235.57 L151.85,235.62 L153.07,235.67 L154.29,235.71 L155.5,235.75 L156.72,235.8 L157.94,235.84 L159.16,235.88 L160.38,235.92 L161.6,235.96 L162.82,236 L164.03,236.04 L165.25,236.08 L166.47,236.12 L167.69,236.16 L168.91,236.19 L170.13,236.23 L171.34,236.27 L172.56,236.3 L173.78,236.34 L175,236.37" stroke="#9c9cc8" stroke-width="0.9"/>
<path d="M18.3,145.97 L18.5,143.36 L18.7,160.62 L18.89,175.37 L19.09,183.95 L19.29,188.99 L19.49,192.15 L19.69,194.39 L19.89,196.24 L20.08,197.84 L20.28,199.24 L20.48,200.48 L20.68,201.59 L20.88,202.58 L21.08,203.48 L21.27,204.3 L21.47,205.05 L21.67,205.74 L21.87,206.38 L22.07,206.97 L22.27,207.53 L22.46,208.04 L22.66,208.53 L22.86,208.99 L23.06,209.42 L23.26,209.83 L23.46,210.22 L23.65,210.59 L23.85,210.95 L24.05,211.29 L24.25,211.62 L24.45,211.93 L24.65,212.23 L24.84,212.52 L25.04,212.8 L25.24,213.08 L25.44,213.34 L25.64,213.6 L25.84,213.85 L26.03,214.09 L26.23,214.32 L26.43,214.55 L26.63,214.77 L26.83,214.99 L27.03,215.2 L27.22,215.41 L27.42,215.61 L27.62,215.81 L27.82,216 L28.02,216.19 L28.22,216.38 L28.41,216.56 L28.61,216.74 L28.81,216.91 L29.01,217.08 L29.21,217.25 L29.41,217.42 L29.6,217.58 L29.8,217.74 L30,217.89 L31.22,218.8 L32.44,219.62 L33.66,220.38 L34.87,221.09 L36.09,221.75 L37.31,222.37 L38.53,222.95 L39.75,223.51 L40.97,224.03 L42.18,224.54 L43.4,225.02 L44.62,225.49 L45.84,225.93 L47.06,226.37 L48.28,226.78 L49.5,227.19 L50.71,227.58 L51.93,227.96 L53.15,228.33 L54.37,228.7 L55.59,229.05 L56.81,229.39 L58.03,229.72 L59.24,230.05 L60.46,230.36 L61.68,230.67 L62.9,230.97 L64.12,231.26 L65.34,231.54 L66.55,231.82 L67.77,232.08 L68.99,232.35 L70.21,232.6 L71.43,232.85 L72.65,233.09 L73.87,233.32 L75.08,233.55 L76.3,233.77 L77.52,233.98 L78.74,234.2 L79.96,234.4 L81.18,234.6 L82.39,234.79 L83.61,234.98 L84.83,235.17 L86.05,235.35 L87.27,235.52 L88.49,235.69 L89.71,235.86 L90.92,236.02 L92.14,236.18 L93.36,236.33 L94.58,236.48 L95.8,236.63 L97.02,236.77 L98.24,236.91 L99.45,237.04 L100.67,237.17 L101.89,237.3 L103.11,237.43 L104.33,237.55 L105.55,237.67 L106.76,237.78 L107.98,237.89 L109.2,238 L110.42,238.11 L111.64,238.21 L112.86,238.32 L114.08,238.41 L115.29,238.51 L116.51,238.6 L117.73,238.7 L118.95,238.79 L120.17,238.87 L121.39,238.96 L122.61,239.04 L123.82,239.12 L125.04,239.2 L126.26,239.27 L127.48,239.35 L128.7,239.42 L129.92,239.49 L131.13,239.55 L132.35,239.62 L133.57,239.68 L134.79,239.75 L136.01,239.81 L137.23,239.87 L138.45,239.92 L139.66,239.98 L140.88,240.03 L142.1,240.08 L143.32,240.13 L144.54,240.18 L145.76,240.23 L146.97,240.28 L148.19,240.32 L149.41,240.37 L150.63,240.41 L151.85,240.45 L153.07,240.49 L154.29,240.52 L155.5,240.56 L156.72,240.6 L157.94,240.63 L159.16,240.66 L160.38,240.69 L161.6,240.73 L162.82,240.75 L164.03,240.78 L165.25,240.81 L166.47,240.84 L167.69,240.86 L168.91,240.88 L170.13,240.91 L171.34,240.93 L172.56,240.95 L173.78,240.97 L175,240.99" stroke="#a4bce8" stroke-width="0.9"/>
<path d="M18.3,147.89 L18.5,161.63 L18.7,171.42 L18.89,178.71 L19.09,184.32 L19.29,188.75 L19.49,192.31 L19.69,195.21 L19.89,197.6 L20.08,199.6 L20.28,201.3 L20.48,202.76 L20.68,204.05 L20.88,205.18 L21.08,206.2 L21.27,207.12 L21.47,207.96 L21.67,208.74 L21.87,209.47 L22.07,210.15 L22.27,210.8 L22.46,211.41 L22.66,212 L22.86,212.57 L23.06,213.12 L23.26,213.64 L23.46,214.14 L23.65,214.63 L23.85,215.09 L24.05,215.54 L24.25,215.97 L24.45,216.38 L24.65,216.78 L24.84,217.16 L25.04,217.53 L25.24,217.89 L25.44,218.23 L25.64,218.56 L25.84,218.87 L26.03,219.18 L26.23,219.47 L26.43,219.75 L26.63,220.02 L26.83,220.29 L27.03,220.54 L27.22,220.78 L27.42,221.02 L27.62,221.24 L27.82,221.46 L28.02,221.67 L28.22,221.87 L28.41,222.07 L28.61,222.26 L28.81,222.45 L29.01,222.63 L29.21,222.8 L29.41,222.97 L29.6,223.13 L29.8,223.29 L30,223.45 L31.22,224.31 L32.44,225.05 L33.66,225.7 L34.87,226.27 L36.09,226.77 L37.31,227.23 L38.53,227.65 L39.75,228.04 L40.97,228.4 L42.18,228.74 L43.4,229.07 L44.62,229.38 L45.84,229.68 L47.06,229.98 L48.28,230.26 L49.5,230.54 L50.71,230.82 L51.93,231.09 L53.15,231.36 L54.37,231.63 L55.59,231.9 L56.81,232.16 L58.03,232.43 L59.24,232.69 L60.46,232.96 L61.68,233.22 L62.9,233.49 L64.12,233.75 L65.34,234.02 L66.55,234.28 L67.77,234.55 L68.99,234.81 L70.21,235.08 L71.43,235.35 L72.65,235.62 L73.87,235.88 L75.08,236.15 L76.3,236.42 L77.52,236.69 L78.74,236.96 L79.96,237.24 L81.18,237.51 L82.39,237.78 L83.61,238.05 L84.83,238.33 L86.05,238.6 L87.27,238.88 L88.49,239.15 L89.71,239.42 L90.92,239.7 L92.14,239.97 L93.36,240.24 L94.58,240.51 L95.8,240.78 L97.02,241.04 L98.24,241.3 L99.45,241.56 L100.67,241.82 L101.89,242.07 L103.11,242.32 L104.33,242.57 L105.55,242.82 L106.76,243.06 L107.98,243.3 L109.2,243.53 L110.42,243.77 L111.64,244 L112.86,244.22 L114.08,244.44 L115.29,244.66 L116.51,244.88 L117.73,245.09 L118.95,245.3 L120.17,245.5 L121.39,245.7 L122.61,245.9 L123.82,246.09 L125.04,246.28 L126.26,246.47 L127.48,246.65 L128.7,246.83 L129.92,247.01 L131.13,247.18 L132.35,247.35 L133.57,247.52 L134.79,247.68 L136.01,247.84 L137.23,247.99 L138.45,248.14 L139.66,248.29 L140.88,248.44 L142.1,248.58 L143.32,248.72 L144.54,248.85 L145.76,248.99 L146.97,249.12 L148.19,249.24 L149.41,249.36 L150.63,249.48 L151.85,249.6 L153.07,249.71 L154.29,249.82 L155.5,249.93 L156.72,250.04 L157.94,250.14 L159.16,250.24 L160.38,250.33 L161.6,250.43 L162.82,250.52 L164.03,250.6 L165.25,250.69 L166.47,250.77 L167.69,250.85 L168.91,250.93 L170.13,251 L171.34,251.07 L172.56,251.14 L173.78,251.21 L175,251.27" stroke="#8c4c34" stroke-width="0.9"/>
</g>
<text transform="translate(96.5,139.3) scale(1,1.1)" font-size="5.5" text-anchor="middle">CEC2017-F14 (<tspan font-style="italic">dim</tspan>=30)</text>
<text transform="translate(96.5,266.5) scale(1,1.1)" font-size="5.5" text-anchor="middle">Iteration</text>
<text transform="translate(6,195.3) rotate(-90)" text-anchor="middle" font-size="5.45">Average fitness value</text>
<rect x="135.3" y="143.7" width="37.1" height="30.2" fill="#fff" stroke="#222" stroke-width="0.8"/>
<path d="M136.6,147.32h12.8" stroke="#222222" stroke-width="1.1"/>
<text transform="translate(150.4,148.72) scale(1,1.1)" font-size="4.6">SPBO</text>
<path d="M136.6,153.21h12.8" stroke="#c6d88c" stroke-width="0.95"/>
<text transform="translate(150.4,154.61) scale(1,1.1)" font-size="4.6">ESPBO-S1</text>
<path d="M136.6,159.1h12.8" stroke="#9c9cc8" stroke-width="0.95"/>
<text transform="translate(150.4,160.5) scale(1,1.1)" font-size="4.6">ESPBO-S2</text>
<path d="M136.6,164.99h12.8" stroke="#a4bce8" stroke-width="0.95"/>
<text transform="translate(150.4,166.39) scale(1,1.1)" font-size="4.6">ESPBO-S3</text>
<path d="M136.6,170.88h12.8" stroke="#8c4c34" stroke-width="0.95"/>
<text transform="translate(150.4,172.28) scale(1,1.1)" font-size="4.6">ESPBO</text>
<clipPath id="c5"><rect x="209.6" y="144.4" width="145.9" height="105.2"/></clipPath>
<rect x="209.6" y="144.4" width="145.9" height="105.2" fill="none" stroke="#262626" stroke-width="0.9"/>
<text transform="translate(224.19,256.4) scale(1,1.1)" font-size="5" text-anchor="middle">50</text>
<text transform="translate(238.78,256.4) scale(1,1.1)" font-size="5" text-anchor="middle">100</text>
<text transform="translate(253.37,256.4) scale(1,1.1)" font-size="5" text-anchor="middle">150</text>
<text transform="translate(267.96,256.4) scale(1,1.1)" font-size="5" text-anchor="middle">200</text>
<text transform="translate(282.55,256.4) scale(1,1.1)" font-size="5" text-anchor="middle">250</text>
<text transform="translate(297.14,256.4) scale(1,1.1)" font-size="5" text-anchor="middle">300</text>
<text transform="translate(311.73,256.4) scale(1,1.1)" font-size="5" text-anchor="middle">350</text>
<text transform="translate(326.32,256.4) scale(1,1.1)" font-size="5" text-anchor="middle">400</text>
<text transform="translate(340.91,256.4) scale(1,1.1)" font-size="5" text-anchor="middle">450</text>
<text transform="translate(355.5,256.4) scale(1,1.1)" font-size="5" text-anchor="middle">500</text>
<text transform="translate(208.1,244.8) scale(1,1.1)" font-size="5" text-anchor="end">2200</text>
<text transform="translate(208.1,227.57) scale(1,1.1)" font-size="5" text-anchor="end">2400</text>
<text transform="translate(208.1,211.72) scale(1,1.1)" font-size="5" text-anchor="end">2600</text>
<text transform="translate(208.1,197.04) scale(1,1.1)" font-size="5" text-anchor="end">2800</text>
<text transform="translate(208.1,183.38) scale(1,1.1)" font-size="5" text-anchor="end">3000</text>
<text transform="translate(208.1,170.6) scale(1,1.1)" font-size="5" text-anchor="end">3200</text>
<text transform="translate(208.1,158.59) scale(1,1.1)" font-size="5" text-anchor="end">3400</text>
<text transform="translate(208.1,147.27) scale(1,1.1)" font-size="5" text-anchor="end">3600</text>
<path d="M224.19,249.6v-1.5 M224.19,144.4v1.5 M238.78,249.6v-1.5 M238.78,144.4v1.5 M253.37,249.6v-1.5 M253.37,144.4v1.5 M267.96,249.6v-1.5 M267.96,144.4v1.5 M282.55,249.6v-1.5 M282.55,144.4v1.5 M297.14,249.6v-1.5 M297.14,144.4v1.5 M311.73,249.6v-1.5 M311.73,144.4v1.5 M326.32,249.6v-1.5 M326.32,144.4v1.5 M340.91,249.6v-1.5 M340.91,144.4v1.5 M355.5,249.6v-1.5 M355.5,144.4v1.5 M209.6,242.5h1.5 M355.5,242.5h-1.5 M209.6,225.27h1.5 M355.5,225.27h-1.5 M209.6,209.42h1.5 M355.5,209.42h-1.5 M209.6,194.74h1.5 M355.5,194.74h-1.5 M209.6,181.08h1.5 M355.5,181.08h-1.5 M209.6,168.3h1.5 M355.5,168.3h-1.5 M209.6,156.29h1.5 M355.5,156.29h-1.5 M209.6,144.97h1.5 M355.5,144.97h-1.5" stroke="#262626" stroke-width="0.6" fill="none"/>
<path d="M209.6,247.05h0.9 M355.5,247.05h-0.9 M209.6,238.05h0.9 M355.5,238.05h-0.9 M209.6,233.7h0.9 M355.5,233.7h-0.9 M209.6,229.44h0.9 M355.5,229.44h-0.9 M209.6,221.19h0.9 M355.5,221.19h-0.9 M209.6,217.18h0.9 M355.5,217.18h-0.9 M209.6,213.26h0.9 M355.5,213.26h-0.9 M209.6,205.64h0.9 M355.5,205.64h-0.9 M209.6,201.94h0.9 M355.5,201.94h-0.9 M209.6,198.31h0.9 M355.5,198.31h-0.9 M209.6,191.24h0.9 M355.5,191.24h-0.9 M209.6,187.79h0.9 M355.5,187.79h-0.9 M209.6,184.41h0.9 M355.5,184.41h-0.9 M209.6,177.8h0.9 M355.5,177.8h-0.9 M209.6,174.58h0.9 M355.5,174.58h-0.9 M209.6,171.42h0.9 M355.5,171.42h-0.9 M209.6,165.23h0.9 M355.5,165.23h-0.9 M209.6,162.2h0.9 M355.5,162.2h-0.9 M209.6,159.22h0.9 M355.5,159.22h-0.9 M209.6,153.4h0.9 M355.5,153.4h-0.9 M209.6,150.55h0.9 M355.5,150.55h-0.9 M209.6,147.74h0.9 M355.5,147.74h-0.9" stroke="#262626" stroke-width="0.5" fill="none"/>
<g clip-path="url(#c5)" fill="none" stroke-linejoin="round">
<path d="M209.9,145.88 L210.1,159.23 L210.3,170.76 L210.49,179.18 L210.69,184.42 L210.89,187.33 L211.09,189.01 L211.29,190.13 L211.49,191.04 L211.68,191.86 L211.88,192.66 L212.08,193.44 L212.28,194.25 L212.48,195.08 L212.68,195.95 L212.87,196.84 L213.07,197.73 L213.27,198.62 L213.47,199.5 L213.67,200.35 L213.87,201.19 L214.06,202 L214.26,202.78 L214.46,203.53 L214.66,204.25 L214.86,204.94 L215.06,205.6 L215.25,206.22 L215.45,206.81 L215.65,207.38 L215.85,207.91 L216.05,208.41 L216.25,208.89 L216.44,209.33 L216.64,209.75 L216.84,210.14 L217.04,210.5 L217.24,210.84 L217.44,211.15 L217.63,211.45 L217.83,211.72 L218.03,211.98 L218.23,212.22 L218.43,212.45 L218.63,212.67 L218.82,212.87 L219.02,213.06 L219.22,213.24 L219.42,213.41 L219.62,213.57 L219.82,213.72 L220.01,213.87 L220.21,214 L220.41,214.13 L220.61,214.26 L220.81,214.38 L221.01,214.49 L221.2,214.6 L221.4,214.71 L221.6,214.81 L222.73,215.31 L223.85,215.74 L224.98,216.12 L226.1,216.47 L227.23,216.81 L228.35,217.14 L229.48,217.48 L230.6,217.82 L231.73,218.16 L232.85,218.5 L233.98,218.83 L235.1,219.16 L236.23,219.49 L237.35,219.8 L238.48,220.11 L239.6,220.42 L240.73,220.71 L241.85,221 L242.98,221.28 L244.1,221.55 L245.23,221.81 L246.35,222.07 L247.48,222.31 L248.61,222.56 L249.73,222.79 L250.86,223.02 L251.98,223.24 L253.11,223.45 L254.23,223.65 L255.36,223.85 L256.48,224.05 L257.61,224.24 L258.73,224.42 L259.86,224.59 L260.98,224.76 L262.11,224.93 L263.23,225.09 L264.36,225.24 L265.48,225.39 L266.61,225.54 L267.73,225.67 L268.86,225.81 L269.98,225.94 L271.11,226.07 L272.23,226.19 L273.36,226.31 L274.48,226.42 L275.61,226.53 L276.74,226.64 L277.86,226.74 L278.99,226.84 L280.11,226.94 L281.24,227.03 L282.36,227.12 L283.49,227.2 L284.61,227.29 L285.74,227.37 L286.86,227.44 L287.99,227.52 L289.11,227.59 L290.24,227.66 L291.36,227.72 L292.49,227.78 L293.61,227.84 L294.74,227.9 L295.86,227.96 L296.99,228.01 L298.11,228.06 L299.24,228.11 L300.36,228.16 L301.49,228.2 L302.62,228.24 L303.74,228.28 L304.87,228.32 L305.99,228.36 L307.12,228.39 L308.24,228.42 L309.37,228.45 L310.49,228.48 L311.62,228.51 L312.74,228.54 L313.87,228.56 L314.99,228.58 L316.12,228.6 L317.24,228.62 L318.37,228.64 L319.49,228.65 L320.62,228.67 L321.74,228.68 L322.87,228.69 L323.99,228.7 L325.12,228.71 L326.24,228.72 L327.37,228.72 L328.49,228.73 L329.62,228.73 L330.75,228.73 L331.87,228.73 L333,228.73 L334.12,228.73 L335.25,228.73 L336.37,228.72 L337.5,228.72 L338.62,228.71 L339.75,228.71 L340.87,228.7 L342,228.69 L343.12,228.68 L344.25,228.67 L345.37,228.66 L346.5,228.65 L347.62,228.63 L348.75,228.62 L349.87,228.6 L351,228.59 L352.12,228.57 L353.25,228.55 L354.37,228.53 L355.5,228.51" stroke="#222222" stroke-width="1.0"/>
<path d="M209.9,146.81 L210.1,163.93 L210.3,176.01 L210.49,184.25 L210.69,189.54 L210.89,192.81 L211.09,194.88 L211.29,196.26 L211.49,197.27 L211.68,198.1 L211.88,198.88 L212.08,199.69 L212.28,200.51 L212.48,201.34 L212.68,202.16 L212.87,202.96 L213.07,203.75 L213.27,204.51 L213.47,205.25 L213.67,205.96 L213.87,206.65 L214.06,207.3 L214.26,207.93 L214.46,208.52 L214.66,209.09 L214.86,209.64 L215.06,210.15 L215.25,210.64 L215.45,211.11 L215.65,211.55 L215.85,211.97 L216.05,212.36 L216.25,212.74 L216.44,213.09 L216.64,213.42 L216.84,213.73 L217.04,214.02 L217.24,214.29 L217.44,214.55 L217.63,214.79 L217.83,215.02 L218.03,215.24 L218.23,215.44 L218.43,215.64 L218.63,215.82 L218.82,216 L219.02,216.17 L219.22,216.33 L219.42,216.49 L219.62,216.64 L219.82,216.78 L220.01,216.92 L220.21,217.05 L220.41,217.18 L220.61,217.31 L220.81,217.43 L221.01,217.55 L221.2,217.67 L221.4,217.78 L221.6,217.89 L222.73,218.49 L223.85,219.04 L224.98,219.56 L226.1,220.05 L227.23,220.5 L228.35,220.93 L229.48,221.34 L230.6,221.72 L231.73,222.09 L232.85,222.43 L233.98,222.76 L235.1,223.07 L236.23,223.37 L237.35,223.65 L238.48,223.92 L239.6,224.17 L240.73,224.42 L241.85,224.65 L242.98,224.88 L244.1,225.09 L245.23,225.3 L246.35,225.5 L247.48,225.69 L248.61,225.87 L249.73,226.05 L250.86,226.22 L251.98,226.38 L253.11,226.53 L254.23,226.69 L255.36,226.83 L256.48,226.97 L257.61,227.1 L258.73,227.23 L259.86,227.36 L260.98,227.48 L262.11,227.6 L263.23,227.71 L264.36,227.82 L265.48,227.92 L266.61,228.03 L267.73,228.13 L268.86,228.22 L269.98,228.31 L271.11,228.4 L272.23,228.49 L273.36,228.57 L274.48,228.65 L275.61,228.73 L276.74,228.8 L277.86,228.88 L278.99,228.95 L280.11,229.01 L281.24,229.08 L282.36,229.14 L283.49,229.21 L284.61,229.27 L285.74,229.32 L286.86,229.38 L287.99,229.43 L289.11,229.49 L290.24,229.54 L291.36,229.59 L292.49,229.63 L293.61,229.68 L294.74,229.72 L295.86,229.77 L296.99,229.81 L298.11,229.85 L299.24,229.89 L300.36,229.92 L301.49,229.96 L302.62,230 L303.74,230.03 L304.87,230.06 L305.99,230.09 L307.12,230.12 L308.24,230.15 L309.37,230.18 L310.49,230.21 L311.62,230.23 L312.74,230.26 L313.87,230.28 L314.99,230.31 L316.12,230.33 L317.24,230.35 L318.37,230.37 L319.49,230.39 L320.62,230.41 L321.74,230.43 L322.87,230.44 L323.99,230.46 L325.12,230.48 L326.24,230.49 L327.37,230.51 L328.49,230.52 L329.62,230.53 L330.75,230.54 L331.87,230.56 L333,230.57 L334.12,230.58 L335.25,230.59 L336.37,230.6 L337.5,230.6 L338.62,230.61 L339.75,230.62 L340.87,230.63 L342,230.63 L343.12,230.64 L344.25,230.64 L345.37,230.65 L346.5,230.65 L347.62,230.66 L348.75,230.66 L349.87,230.66 L351,230.66 L352.12,230.67 L353.25,230.67 L354.37,230.67 L355.5,230.67" stroke="#c8d8a0" stroke-width="0.9"/>
<path d="M209.9,147.77 L210.1,165.57 L210.3,178.62 L210.49,187.73 L210.69,193.64 L210.89,197.32 L211.09,199.65 L211.29,201.2 L211.49,202.31 L211.68,203.2 L211.88,204.02 L212.08,204.83 L212.28,205.65 L212.48,206.46 L212.68,207.25 L212.87,208.03 L213.07,208.79 L213.27,209.52 L213.47,210.22 L213.67,210.9 L213.87,211.55 L214.06,212.17 L214.26,212.76 L214.46,213.33 L214.66,213.87 L214.86,214.39 L215.06,214.88 L215.25,215.34 L215.45,215.79 L215.65,216.21 L215.85,216.61 L216.05,216.99 L216.25,217.35 L216.44,217.69 L216.64,218.01 L216.84,218.31 L217.04,218.6 L217.24,218.87 L217.44,219.12 L217.63,219.36 L217.83,219.59 L218.03,219.81 L218.23,220.01 L218.43,220.21 L218.63,220.4 L218.82,220.58 L219.02,220.75 L219.22,220.91 L219.42,221.07 L219.62,221.23 L219.82,221.37 L220.01,221.51 L220.21,221.65 L220.41,221.78 L220.61,221.91 L220.81,222.04 L221.01,222.16 L221.2,222.28 L221.4,222.39 L221.6,222.51 L222.73,223.1 L223.85,223.64 L224.98,224.14 L226.1,224.6 L227.23,225.02 L228.35,225.41 L229.48,225.77 L230.6,226.12 L231.73,226.43 L232.85,226.73 L233.98,227.02 L235.1,227.28 L236.23,227.53 L237.35,227.77 L238.48,228 L239.6,228.21 L240.73,228.42 L241.85,228.61 L242.98,228.79 L244.1,228.97 L245.23,229.14 L246.35,229.3 L247.48,229.45 L248.61,229.6 L249.73,229.74 L250.86,229.87 L251.98,230 L253.11,230.12 L254.23,230.24 L255.36,230.36 L256.48,230.47 L257.61,230.57 L258.73,230.67 L259.86,230.77 L260.98,230.86 L262.11,230.96 L263.23,231.04 L264.36,231.13 L265.48,231.21 L266.61,231.29 L267.73,231.36 L268.86,231.44 L269.98,231.51 L271.11,231.57 L272.23,231.64 L273.36,231.7 L274.48,231.76 L275.61,231.82 L276.74,231.88 L277.86,231.94 L278.99,231.99 L280.11,232.04 L281.24,232.09 L282.36,232.14 L283.49,232.19 L284.61,232.23 L285.74,232.28 L286.86,232.32 L287.99,232.36 L289.11,232.4 L290.24,232.44 L291.36,232.47 L292.49,232.51 L293.61,232.54 L294.74,232.58 L295.86,232.61 L296.99,232.64 L298.11,232.67 L299.24,232.7 L300.36,232.73 L301.49,232.76 L302.62,232.78 L303.74,232.81 L304.87,232.83 L305.99,232.86 L307.12,232.88 L308.24,232.9 L309.37,232.92 L310.49,232.94 L311.62,232.96 L312.74,232.98 L313.87,233 L314.99,233.02 L316.12,233.04 L317.24,233.05 L318.37,233.07 L319.49,233.08 L320.62,233.1 L321.74,233.11 L322.87,233.12 L323.99,233.14 L325.12,233.15 L326.24,233.16 L327.37,233.17 L328.49,233.18 L329.62,233.19 L330.75,233.2 L331.87,233.21 L333,233.22 L334.12,233.23 L335.25,233.24 L336.37,233.24 L337.5,233.25 L338.62,233.26 L339.75,233.26 L340.87,233.27 L342,233.28 L343.12,233.28 L344.25,233.29 L345.37,233.29 L346.5,233.29 L347.62,233.3 L348.75,233.3 L349.87,233.3 L351,233.31 L352.12,233.31 L353.25,233.31 L354.37,233.31 L355.5,233.31" stroke="#8a9cb4" stroke-width="0.9"/>
<path d="M209.9,147.8 L210.1,166.03 L210.3,179.87 L210.49,189.67 L210.69,196.03 L210.89,199.93 L211.09,202.36 L211.29,203.94 L211.49,205.06 L211.68,205.96 L211.88,206.78 L212.08,207.61 L212.28,208.46 L212.48,209.31 L212.68,210.16 L212.87,210.98 L213.07,211.79 L213.27,212.58 L213.47,213.34 L213.67,214.07 L213.87,214.78 L214.06,215.45 L214.26,216.1 L214.46,216.72 L214.66,217.31 L214.86,217.88 L215.06,218.42 L215.25,218.93 L215.45,219.42 L215.65,219.88 L215.85,220.32 L216.05,220.74 L216.25,221.14 L216.44,221.51 L216.64,221.87 L216.84,222.2 L217.04,222.52 L217.24,222.81 L217.44,223.09 L217.63,223.36 L217.83,223.61 L218.03,223.85 L218.23,224.08 L218.43,224.3 L218.63,224.5 L218.82,224.7 L219.02,224.89 L219.22,225.07 L219.42,225.24 L219.62,225.41 L219.82,225.57 L220.01,225.72 L220.21,225.87 L220.41,226.02 L220.61,226.15 L220.81,226.29 L221.01,226.42 L221.2,226.54 L221.4,226.67 L221.6,226.78 L222.73,227.4 L223.85,227.95 L224.98,228.44 L226.1,228.88 L227.23,229.29 L228.35,229.65 L229.48,229.99 L230.6,230.3 L231.73,230.59 L232.85,230.85 L233.98,231.1 L235.1,231.33 L236.23,231.55 L237.35,231.76 L238.48,231.95 L239.6,232.13 L240.73,232.3 L241.85,232.46 L242.98,232.61 L244.1,232.76 L245.23,232.9 L246.35,233.03 L247.48,233.15 L248.61,233.27 L249.73,233.39 L250.86,233.5 L251.98,233.6 L253.11,233.7 L254.23,233.8 L255.36,233.89 L256.48,233.98 L257.61,234.06 L258.73,234.15 L259.86,234.23 L260.98,234.3 L262.11,234.38 L263.23,234.45 L264.36,234.52 L265.48,234.58 L266.61,234.65 L267.73,234.71 L268.86,234.77 L269.98,234.82 L271.11,234.88 L272.23,234.94 L273.36,234.99 L274.48,235.04 L275.61,235.09 L276.74,235.14 L277.86,235.18 L278.99,235.23 L280.11,235.27 L281.24,235.32 L282.36,235.36 L283.49,235.4 L284.61,235.44 L285.74,235.48 L286.86,235.51 L287.99,235.55 L289.11,235.59 L290.24,235.62 L291.36,235.65 L292.49,235.69 L293.61,235.72 L294.74,235.75 L295.86,235.78 L296.99,235.81 L298.11,235.84 L299.24,235.87 L300.36,235.89 L301.49,235.92 L302.62,235.95 L303.74,235.97 L304.87,236 L305.99,236.02 L307.12,236.05 L308.24,236.07 L309.37,236.09 L310.49,236.12 L311.62,236.14 L312.74,236.16 L313.87,236.18 L314.99,236.2 L316.12,236.22 L317.24,236.24 L318.37,236.26 L319.49,236.28 L320.62,236.3 L321.74,236.32 L322.87,236.33 L323.99,236.35 L325.12,236.37 L326.24,236.39 L327.37,236.4 L328.49,236.42 L329.62,236.43 L330.75,236.45 L331.87,236.46 L333,236.48 L334.12,236.49 L335.25,236.51 L336.37,236.52 L337.5,236.54 L338.62,236.55 L339.75,236.56 L340.87,236.58 L342,236.59 L343.12,236.6 L344.25,236.61 L345.37,236.63 L346.5,236.64 L347.62,236.65 L348.75,236.66 L349.87,236.67 L351,236.68 L352.12,236.69 L353.25,236.7 L354.37,236.71 L355.5,236.72" stroke="#a8b2e4" stroke-width="0.9"/>
<path d="M209.9,149.97 L210.1,172.74 L210.3,186.03 L210.49,194.34 L210.69,199.85 L210.89,203.76 L211.09,206.71 L211.29,209.07 L211.49,211.02 L211.68,212.67 L211.88,214.11 L212.08,215.39 L212.28,216.55 L212.48,217.64 L212.68,218.66 L212.87,219.64 L213.07,220.6 L213.27,221.52 L213.47,222.41 L213.67,223.25 L213.87,224.05 L214.06,224.8 L214.26,225.5 L214.46,226.16 L214.66,226.77 L214.86,227.35 L215.06,227.9 L215.25,228.41 L215.45,228.9 L215.65,229.36 L215.85,229.8 L216.05,230.22 L216.25,230.62 L216.44,230.99 L216.64,231.35 L216.84,231.7 L217.04,232.03 L217.24,232.34 L217.44,232.64 L217.63,232.93 L217.83,233.21 L218.03,233.48 L218.23,233.74 L218.43,233.98 L218.63,234.22 L218.82,234.45 L219.02,234.67 L219.22,234.89 L219.42,235.09 L219.62,235.3 L219.82,235.49 L220.01,235.68 L220.21,235.86 L220.41,236.03 L220.61,236.2 L220.81,236.37 L221.01,236.53 L221.2,236.69 L221.4,236.84 L221.6,236.99 L222.73,237.76 L223.85,238.42 L224.98,239.01 L226.1,239.53 L227.23,240 L228.35,240.42 L229.48,240.81 L230.6,241.16 L231.73,241.48 L232.85,241.78 L233.98,242.06 L235.1,242.32 L236.23,242.56 L237.35,242.79 L238.48,243 L239.6,243.2 L240.73,243.39 L241.85,243.57 L242.98,243.74 L244.1,243.9 L245.23,244.05 L246.35,244.2 L247.48,244.34 L248.61,244.47 L249.73,244.6 L250.86,244.73 L251.98,244.84 L253.11,244.96 L254.23,245.07 L255.36,245.17 L256.48,245.28 L257.61,245.38 L258.73,245.47 L259.86,245.56 L260.98,245.65 L262.11,245.74 L263.23,245.83 L264.36,245.91 L265.48,245.99 L266.61,246.07 L267.73,246.14 L268.86,246.22 L269.98,246.29 L271.11,246.36 L272.23,246.43 L273.36,246.5 L274.48,246.57 L275.61,246.63 L276.74,246.69 L277.86,246.76 L278.99,246.82 L280.11,246.88 L281.24,246.94 L282.36,246.99 L283.49,247.05 L284.61,247.11 L285.74,247.16 L286.86,247.21 L287.99,247.27 L289.11,247.32 L290.24,247.37 L291.36,247.42 L292.49,247.47 L293.61,247.52 L294.74,247.57 L295.86,247.62 L296.99,247.66 L298.11,247.71 L299.24,247.76 L300.36,247.8 L301.49,247.85 L302.62,247.89 L303.74,247.94 L304.87,247.98 L305.99,248.02 L307.12,248.06 L308.24,248.11 L309.37,248.15 L310.49,248.19 L311.62,248.23 L312.74,248.27 L313.87,248.31 L314.99,248.35 L316.12,248.39 L317.24,248.42 L318.37,248.46 L319.49,248.5 L320.62,248.54 L321.74,248.58 L322.87,248.61 L323.99,248.65 L325.12,248.69 L326.24,248.72 L327.37,248.76 L328.49,248.79 L329.62,248.83 L330.75,248.86 L331.87,248.9 L333,248.93 L334.12,248.97 L335.25,249 L336.37,249.03 L337.5,249.07 L338.62,249.1 L339.75,249.13 L340.87,249.17 L342,249.2 L343.12,249.23 L344.25,249.26 L345.37,249.29 L346.5,249.33 L347.62,249.36 L348.75,249.39 L349.87,249.42 L351,249.45 L352.12,249.48 L353.25,249.51 L354.37,249.54 L355.5,249.57" stroke="#9a5040" stroke-width="0.9"/>
</g>
<text transform="translate(282.55,142.8) scale(1,1.1)" font-size="5.3" text-anchor="middle">CEC2017-F20 (<tspan font-style="italic">dim</tspan>=30)</text>
<text transform="translate(282.55,263.6) scale(1,1.1)" font-size="5.2" text-anchor="middle">Iteration</text>
<text transform="translate(196.6,195) rotate(-90)" text-anchor="middle" font-size="5.5">Average fitness value</text>
<rect x="317.2" y="147.3" width="35.1" height="28.3" fill="#fff" stroke="#222" stroke-width="0.8"/>
<path d="M318.5,150.7h12.8" stroke="#222222" stroke-width="1.1"/>
<text transform="translate(332.3,152.1) scale(1,1.1)" font-size="4.4">SPBO</text>
<path d="M318.5,156.21h12.8" stroke="#c8d8a0" stroke-width="0.95"/>
<text transform="translate(332.3,157.61) scale(1,1.1)" font-size="4.4">ESPBO-S1</text>
<path d="M318.5,161.73h12.8" stroke="#8a9cb4" stroke-width="0.95"/>
<text transform="translate(332.3,163.13) scale(1,1.1)" font-size="4.4">ESPBO-S2</text>
<path d="M318.5,167.25h12.8" stroke="#a8b2e4" stroke-width="0.95"/>
<text transform="translate(332.3,168.65) scale(1,1.1)" font-size="4.4">ESPBO-S3</text>
<path d="M318.5,172.77h12.8" stroke="#9a5040" stroke-width="0.95"/>
<text transform="translate(332.3,174.17) scale(1,1.1)" font-size="4.4">ESPBO</text>
<clipPath id="c6"><rect x="390.6" y="141.6" width="153" height="110.3"/></clipPath>
<rect x="390.6" y="141.6" width="153" height="110.3" fill="none" stroke="#262626" stroke-width="0.9"/>
<text transform="translate(405.9,258.7) scale(1,1.1)" font-size="5" text-anchor="middle">50</text>
<text transform="translate(421.2,258.7) scale(1,1.1)" font-size="5" text-anchor="middle">100</text>
<text transform="translate(436.5,258.7) scale(1,1.1)" font-size="5" text-anchor="middle">150</text>
<text transform="translate(451.8,258.7) scale(1,1.1)" font-size="5" text-anchor="middle">200</text>
<text transform="translate(467.1,258.7) scale(1,1.1)" font-size="5" text-anchor="middle">250</text>
<text transform="translate(482.4,258.7) scale(1,1.1)" font-size="5" text-anchor="middle">300</text>
<text transform="translate(497.7,258.7) scale(1,1.1)" font-size="5" text-anchor="middle">350</text>
<text transform="translate(513,258.7) scale(1,1.1)" font-size="5" text-anchor="middle">400</text>
<text transform="translate(528.3,258.7) scale(1,1.1)" font-size="5" text-anchor="middle">450</text>
<text transform="translate(543.6,258.7) scale(1,1.1)" font-size="5" text-anchor="middle">500</text>
<text transform="translate(389.1,252) scale(1,1.1)" font-size="5" text-anchor="end">2900</text>
<text transform="translate(389.1,238.95) scale(1,1.1)" font-size="5" text-anchor="end">3000</text>
<text transform="translate(389.1,226.32) scale(1,1.1)" font-size="5" text-anchor="end">3100</text>
<text transform="translate(389.1,214.1) scale(1,1.1)" font-size="5" text-anchor="end">3200</text>
<text transform="translate(389.1,202.25) scale(1,1.1)" font-size="5" text-anchor="end">3300</text>
<text transform="translate(389.1,190.76) scale(1,1.1)" font-size="5" text-anchor="end">3400</text>
<text transform="translate(389.1,179.6) scale(1,1.1)" font-size="5" text-anchor="end">3500</text>
<text transform="translate(389.1,168.75) scale(1,1.1)" font-size="5" text-anchor="end">3600</text>
<text transform="translate(389.1,158.2) scale(1,1.1)" font-size="5" text-anchor="end">3700</text>
<text transform="translate(389.1,147.94) scale(1,1.1)" font-size="5" text-anchor="end">3800</text>
<path d="M405.9,251.9v-1.5 M405.9,141.6v1.5 M421.2,251.9v-1.5 M421.2,141.6v1.5 M436.5,251.9v-1.5 M436.5,141.6v1.5 M451.8,251.9v-1.5 M451.8,141.6v1.5 M467.1,251.9v-1.5 M467.1,141.6v1.5 M482.4,251.9v-1.5 M482.4,141.6v1.5 M497.7,251.9v-1.5 M497.7,141.6v1.5 M513,251.9v-1.5 M513,141.6v1.5 M528.3,251.9v-1.5 M528.3,141.6v1.5 M543.6,251.9v-1.5 M543.6,141.6v1.5 M390.6,249.7h1.5 M543.6,249.7h-1.5 M390.6,236.65h1.5 M543.6,236.65h-1.5 M390.6,224.02h1.5 M543.6,224.02h-1.5 M390.6,211.8h1.5 M543.6,211.8h-1.5 M390.6,199.95h1.5 M543.6,199.95h-1.5 M390.6,188.46h1.5 M543.6,188.46h-1.5 M390.6,177.3h1.5 M543.6,177.3h-1.5 M390.6,166.45h1.5 M543.6,166.45h-1.5 M390.6,155.9h1.5 M543.6,155.9h-1.5 M390.6,145.64h1.5 M543.6,145.64h-1.5" stroke="#262626" stroke-width="0.6" fill="none"/>
<path d="M390.6,247.05h0.9 M543.6,247.05h-0.9 M390.6,244.43h0.9 M543.6,244.43h-0.9 M390.6,241.82h0.9 M543.6,241.82h-0.9 M390.6,239.22h0.9 M543.6,239.22h-0.9 M390.6,234.09h0.9 M543.6,234.09h-0.9 M390.6,231.55h0.9 M543.6,231.55h-0.9 M390.6,229.02h0.9 M543.6,229.02h-0.9 M390.6,226.52h0.9 M543.6,226.52h-0.9 M390.6,221.55h0.9 M543.6,221.55h-0.9 M390.6,219.09h0.9 M543.6,219.09h-0.9 M390.6,216.64h0.9 M543.6,216.64h-0.9 M390.6,214.21h0.9 M543.6,214.21h-0.9 M390.6,209.4h0.9 M543.6,209.4h-0.9 M390.6,207.02h0.9 M543.6,207.02h-0.9 M390.6,204.65h0.9 M543.6,204.65h-0.9 M390.6,202.29h0.9 M543.6,202.29h-0.9 M390.6,197.63h0.9 M543.6,197.63h-0.9 M390.6,195.31h0.9 M543.6,195.31h-0.9 M390.6,193.02h0.9 M543.6,193.02h-0.9 M390.6,190.73h0.9 M543.6,190.73h-0.9 M390.6,186.2h0.9 M543.6,186.2h-0.9 M390.6,183.96h0.9 M543.6,183.96h-0.9 M390.6,181.72h0.9 M543.6,181.72h-0.9 M390.6,179.51h0.9 M543.6,179.51h-0.9 M390.6,175.11h0.9 M543.6,175.11h-0.9 M390.6,172.92h0.9 M543.6,172.92h-0.9 M390.6,170.76h0.9 M543.6,170.76h-0.9 M390.6,168.6h0.9 M543.6,168.6h-0.9 M390.6,164.32h0.9 M543.6,164.32h-0.9 M390.6,162.2h0.9 M543.6,162.2h-0.9 M390.6,160.09h0.9 M543.6,160.09h-0.9 M390.6,157.99h0.9 M543.6,157.99h-0.9 M390.6,153.83h0.9 M543.6,153.83h-0.9 M390.6,151.77h0.9 M543.6,151.77h-0.9 M390.6,149.71h0.9 M543.6,149.71h-0.9 M390.6,147.67h0.9 M543.6,147.67h-0.9 M390.6,143.62h0.9 M543.6,143.62h-0.9 M390.6,141.61h0.9 M543.6,141.61h-0.9" stroke="#262626" stroke-width="0.5" fill="none"/>
<g clip-path="url(#c6)" fill="none" stroke-linejoin="round">
<path d="M390.7,149.71 L390.9,168.77 L391.1,181.19 L391.31,189.93 L391.51,196.41 L391.71,201.4 L391.91,205.35 L392.11,208.54 L392.31,211.17 L392.52,213.37 L392.72,215.23 L392.92,216.81 L393.12,218.18 L393.32,219.37 L393.52,220.41 L393.73,221.33 L393.93,222.14 L394.13,222.87 L394.33,223.51 L394.53,224.1 L394.73,224.62 L394.94,225.09 L395.14,225.53 L395.34,225.92 L395.54,226.28 L395.74,226.61 L395.94,226.91 L396.15,227.19 L396.35,227.45 L396.55,227.69 L396.75,227.92 L396.95,228.13 L397.15,228.32 L397.36,228.5 L397.56,228.67 L397.76,228.84 L397.96,228.99 L398.16,229.13 L398.36,229.27 L398.57,229.4 L398.77,229.52 L398.97,229.64 L399.17,229.75 L399.37,229.85 L399.57,229.96 L399.78,230.05 L399.98,230.15 L400.18,230.24 L400.38,230.32 L400.58,230.41 L400.78,230.48 L400.99,230.56 L401.19,230.63 L401.39,230.7 L401.59,230.77 L401.79,230.84 L401.99,230.9 L402.2,230.96 L402.4,231.02 L402.6,231.07 L403.78,231.36 L404.97,231.6 L406.15,231.8 L407.34,231.97 L408.52,232.1 L409.71,232.22 L410.89,232.32 L412.08,232.41 L413.26,232.49 L414.45,232.55 L415.63,232.61 L416.82,232.66 L418,232.7 L419.19,232.74 L420.37,232.78 L421.56,232.81 L422.74,232.83 L423.93,232.86 L425.11,232.88 L426.3,232.9 L427.48,232.92 L428.67,232.94 L429.85,232.95 L431.04,232.97 L432.22,232.98 L433.41,232.99 L434.59,233.01 L435.78,233.02 L436.96,233.03 L438.15,233.04 L439.33,233.05 L440.52,233.06 L441.7,233.07 L442.89,233.08 L444.07,233.09 L445.26,233.1 L446.44,233.1 L447.63,233.11 L448.81,233.12 L449.99,233.13 L451.18,233.14 L452.36,233.15 L453.55,233.16 L454.73,233.16 L455.92,233.17 L457.1,233.18 L458.29,233.19 L459.47,233.2 L460.66,233.21 L461.84,233.22 L463.03,233.23 L464.21,233.24 L465.4,233.25 L466.58,233.26 L467.77,233.27 L468.95,233.28 L470.14,233.29 L471.32,233.3 L472.51,233.31 L473.69,233.32 L474.88,233.33 L476.06,233.34 L477.25,233.35 L478.43,233.36 L479.62,233.37 L480.8,233.38 L481.99,233.39 L483.17,233.41 L484.36,233.42 L485.54,233.43 L486.73,233.44 L487.91,233.45 L489.1,233.47 L490.28,233.48 L491.47,233.49 L492.65,233.5 L493.84,233.52 L495.02,233.53 L496.21,233.54 L497.39,233.55 L498.57,233.57 L499.76,233.58 L500.94,233.59 L502.13,233.61 L503.31,233.62 L504.5,233.64 L505.68,233.65 L506.87,233.66 L508.05,233.68 L509.24,233.69 L510.42,233.71 L511.61,233.72 L512.79,233.73 L513.98,233.75 L515.16,233.76 L516.35,233.78 L517.53,233.79 L518.72,233.81 L519.9,233.82 L521.09,233.84 L522.27,233.85 L523.46,233.87 L524.64,233.88 L525.83,233.9 L527.01,233.92 L528.2,233.93 L529.38,233.95 L530.57,233.96 L531.75,233.98 L532.94,233.99 L534.12,234.01 L535.31,234.03 L536.49,234.04 L537.68,234.06 L538.86,234.08 L540.05,234.09 L541.23,234.11 L542.42,234.12 L543.6,234.14" stroke="#222222" stroke-width="1.0"/>
<path d="M390.7,152.33 L390.9,172.31 L391.1,185.15 L391.31,194.08 L391.51,200.61 L391.71,205.58 L391.91,209.47 L392.11,212.58 L392.31,215.11 L392.52,217.2 L392.72,218.95 L392.92,220.43 L393.12,221.68 L393.32,222.77 L393.52,223.7 L393.73,224.52 L393.93,225.24 L394.13,225.87 L394.33,226.42 L394.53,226.92 L394.73,227.36 L394.94,227.76 L395.14,228.12 L395.34,228.44 L395.54,228.73 L395.74,229 L395.94,229.24 L396.15,229.46 L396.35,229.66 L396.55,229.85 L396.75,230.03 L396.95,230.19 L397.15,230.34 L397.36,230.48 L397.56,230.61 L397.76,230.73 L397.96,230.85 L398.16,230.96 L398.36,231.06 L398.57,231.16 L398.77,231.25 L398.97,231.34 L399.17,231.43 L399.37,231.51 L399.57,231.59 L399.78,231.67 L399.98,231.74 L400.18,231.81 L400.38,231.88 L400.58,231.95 L400.78,232.01 L400.99,232.07 L401.19,232.13 L401.39,232.19 L401.59,232.25 L401.79,232.3 L401.99,232.35 L402.2,232.4 L402.4,232.45 L402.6,232.5 L403.78,232.75 L404.97,232.96 L406.15,233.15 L407.34,233.31 L408.52,233.45 L409.71,233.58 L410.89,233.69 L412.08,233.79 L413.26,233.88 L414.45,233.97 L415.63,234.05 L416.82,234.12 L418,234.19 L419.19,234.25 L420.37,234.31 L421.56,234.36 L422.74,234.42 L423.93,234.47 L425.11,234.52 L426.3,234.56 L427.48,234.61 L428.67,234.65 L429.85,234.69 L431.04,234.73 L432.22,234.77 L433.41,234.81 L434.59,234.84 L435.78,234.88 L436.96,234.91 L438.15,234.95 L439.33,234.98 L440.52,235.01 L441.7,235.05 L442.89,235.08 L444.07,235.11 L445.26,235.14 L446.44,235.17 L447.63,235.2 L448.81,235.23 L449.99,235.26 L451.18,235.29 L452.36,235.32 L453.55,235.35 L454.73,235.38 L455.92,235.41 L457.1,235.43 L458.29,235.46 L459.47,235.49 L460.66,235.52 L461.84,235.54 L463.03,235.57 L464.21,235.6 L465.4,235.62 L466.58,235.65 L467.77,235.68 L468.95,235.7 L470.14,235.73 L471.32,235.76 L472.51,235.78 L473.69,235.81 L474.88,235.84 L476.06,235.86 L477.25,235.89 L478.43,235.91 L479.62,235.94 L480.8,235.97 L481.99,235.99 L483.17,236.02 L484.36,236.04 L485.54,236.07 L486.73,236.09 L487.91,236.12 L489.1,236.14 L490.28,236.17 L491.47,236.2 L492.65,236.22 L493.84,236.25 L495.02,236.27 L496.21,236.3 L497.39,236.32 L498.57,236.35 L499.76,236.37 L500.94,236.4 L502.13,236.42 L503.31,236.45 L504.5,236.47 L505.68,236.5 L506.87,236.52 L508.05,236.54 L509.24,236.57 L510.42,236.59 L511.61,236.62 L512.79,236.64 L513.98,236.67 L515.16,236.69 L516.35,236.72 L517.53,236.74 L518.72,236.77 L519.9,236.79 L521.09,236.81 L522.27,236.84 L523.46,236.86 L524.64,236.89 L525.83,236.91 L527.01,236.94 L528.2,236.96 L529.38,236.98 L530.57,237.01 L531.75,237.03 L532.94,237.06 L534.12,237.08 L535.31,237.11 L536.49,237.13 L537.68,237.15 L538.86,237.18 L540.05,237.2 L541.23,237.23 L542.42,237.25 L543.6,237.27" stroke="#c8d890" stroke-width="0.9"/>
<path d="M390.7,155.33 L390.9,179.81 L391.1,194.48 L391.31,204.06 L391.51,210.69 L391.71,215.47 L391.91,219.04 L392.11,221.78 L392.31,223.93 L392.52,225.65 L392.72,227.07 L392.92,228.24 L393.12,229.23 L393.32,230.08 L393.52,230.79 L393.73,231.41 L393.93,231.95 L394.13,232.41 L394.33,232.82 L394.53,233.18 L394.73,233.5 L394.94,233.78 L395.14,234.03 L395.34,234.25 L395.54,234.45 L395.74,234.63 L395.94,234.8 L396.15,234.95 L396.35,235.09 L396.55,235.21 L396.75,235.33 L396.95,235.44 L397.15,235.54 L397.36,235.64 L397.56,235.73 L397.76,235.81 L397.96,235.89 L398.16,235.97 L398.36,236.05 L398.57,236.12 L398.77,236.19 L398.97,236.26 L399.17,236.32 L399.37,236.39 L399.57,236.45 L399.78,236.52 L399.98,236.58 L400.18,236.64 L400.38,236.7 L400.58,236.75 L400.78,236.81 L400.99,236.87 L401.19,236.92 L401.39,236.97 L401.59,237.02 L401.79,237.08 L401.99,237.13 L402.2,237.18 L402.4,237.22 L402.6,237.27 L403.78,237.53 L404.97,237.77 L406.15,237.99 L407.34,238.19 L408.52,238.38 L409.71,238.55 L410.89,238.71 L412.08,238.86 L413.26,239 L414.45,239.13 L415.63,239.25 L416.82,239.37 L418,239.48 L419.19,239.58 L420.37,239.68 L421.56,239.77 L422.74,239.86 L423.93,239.95 L425.11,240.03 L426.3,240.11 L427.48,240.18 L428.67,240.25 L429.85,240.32 L431.04,240.38 L432.22,240.45 L433.41,240.51 L434.59,240.56 L435.78,240.62 L436.96,240.67 L438.15,240.72 L439.33,240.77 L440.52,240.82 L441.7,240.87 L442.89,240.91 L444.07,240.95 L445.26,240.99 L446.44,241.03 L447.63,241.07 L448.81,241.11 L449.99,241.15 L451.18,241.18 L452.36,241.22 L453.55,241.25 L454.73,241.28 L455.92,241.31 L457.1,241.34 L458.29,241.37 L459.47,241.4 L460.66,241.43 L461.84,241.45 L463.03,241.48 L464.21,241.5 L465.4,241.53 L466.58,241.55 L467.77,241.57 L468.95,241.6 L470.14,241.62 L471.32,241.64 L472.51,241.66 L473.69,241.68 L474.88,241.7 L476.06,241.72 L477.25,241.74 L478.43,241.75 L479.62,241.77 L480.8,241.79 L481.99,241.8 L483.17,241.82 L484.36,241.84 L485.54,241.85 L486.73,241.87 L487.91,241.88 L489.1,241.89 L490.28,241.91 L491.47,241.92 L492.65,241.93 L493.84,241.95 L495.02,241.96 L496.21,241.97 L497.39,241.98 L498.57,241.99 L499.76,242 L500.94,242.02 L502.13,242.03 L503.31,242.04 L504.5,242.05 L505.68,242.06 L506.87,242.06 L508.05,242.07 L509.24,242.08 L510.42,242.09 L511.61,242.1 L512.79,242.11 L513.98,242.12 L515.16,242.12 L516.35,242.13 L517.53,242.14 L518.72,242.15 L519.9,242.15 L521.09,242.16 L522.27,242.17 L523.46,242.17 L524.64,242.18 L525.83,242.18 L527.01,242.19 L528.2,242.19 L529.38,242.2 L530.57,242.21 L531.75,242.21 L532.94,242.22 L534.12,242.22 L535.31,242.23 L536.49,242.23 L537.68,242.23 L538.86,242.24 L540.05,242.24 L541.23,242.25 L542.42,242.25 L543.6,242.25" stroke="#8e8ed0" stroke-width="0.9"/>
<path d="M390.7,155.38 L390.9,181.61 L391.1,197.09 L391.31,207.04 L391.51,213.81 L391.71,218.63 L391.91,222.18 L392.11,224.86 L392.31,226.95 L392.52,228.61 L392.72,229.95 L392.92,231.07 L393.12,232.01 L393.32,232.81 L393.52,233.48 L393.73,234.06 L393.93,234.56 L394.13,234.99 L394.33,235.37 L394.53,235.7 L394.73,235.99 L394.94,236.25 L395.14,236.48 L395.34,236.68 L395.54,236.87 L395.74,237.03 L395.94,237.18 L396.15,237.32 L396.35,237.44 L396.55,237.56 L396.75,237.66 L396.95,237.76 L397.15,237.86 L397.36,237.94 L397.56,238.03 L397.76,238.1 L397.96,238.18 L398.16,238.25 L398.36,238.32 L398.57,238.39 L398.77,238.45 L398.97,238.52 L399.17,238.58 L399.37,238.65 L399.57,238.71 L399.78,238.77 L399.98,238.83 L400.18,238.89 L400.38,238.94 L400.58,239 L400.78,239.06 L400.99,239.11 L401.19,239.16 L401.39,239.22 L401.59,239.27 L401.79,239.32 L401.99,239.37 L402.2,239.42 L402.4,239.47 L402.6,239.52 L403.78,239.79 L404.97,240.04 L406.15,240.27 L407.34,240.49 L408.52,240.69 L409.71,240.87 L410.89,241.05 L412.08,241.21 L413.26,241.37 L414.45,241.52 L415.63,241.66 L416.82,241.79 L418,241.91 L419.19,242.03 L420.37,242.14 L421.56,242.25 L422.74,242.36 L423.93,242.45 L425.11,242.55 L426.3,242.64 L427.48,242.72 L428.67,242.81 L429.85,242.88 L431.04,242.96 L432.22,243.03 L433.41,243.1 L434.59,243.17 L435.78,243.24 L436.96,243.3 L438.15,243.36 L439.33,243.42 L440.52,243.47 L441.7,243.53 L442.89,243.58 L444.07,243.63 L445.26,243.68 L446.44,243.73 L447.63,243.77 L448.81,243.82 L449.99,243.86 L451.18,243.9 L452.36,243.94 L453.55,243.98 L454.73,244.02 L455.92,244.06 L457.1,244.09 L458.29,244.12 L459.47,244.16 L460.66,244.19 L461.84,244.22 L463.03,244.25 L464.21,244.28 L465.4,244.31 L466.58,244.34 L467.77,244.36 L468.95,244.39 L470.14,244.42 L471.32,244.44 L472.51,244.46 L473.69,244.49 L474.88,244.51 L476.06,244.53 L477.25,244.55 L478.43,244.57 L479.62,244.59 L480.8,244.61 L481.99,244.63 L483.17,244.65 L484.36,244.67 L485.54,244.69 L486.73,244.7 L487.91,244.72 L489.1,244.74 L490.28,244.75 L491.47,244.77 L492.65,244.78 L493.84,244.79 L495.02,244.81 L496.21,244.82 L497.39,244.83 L498.57,244.85 L499.76,244.86 L500.94,244.87 L502.13,244.88 L503.31,244.89 L504.5,244.9 L505.68,244.91 L506.87,244.93 L508.05,244.93 L509.24,244.94 L510.42,244.95 L511.61,244.96 L512.79,244.97 L513.98,244.98 L515.16,244.99 L516.35,245 L517.53,245 L518.72,245.01 L519.9,245.02 L521.09,245.02 L522.27,245.03 L523.46,245.04 L524.64,245.04 L525.83,245.05 L527.01,245.05 L528.2,245.06 L529.38,245.06 L530.57,245.07 L531.75,245.07 L532.94,245.08 L534.12,245.08 L535.31,245.09 L536.49,245.09 L537.68,245.1 L538.86,245.1 L540.05,245.1 L541.23,245.11 L542.42,245.11 L543.6,245.11" stroke="#b4c4ea" stroke-width="0.9"/>
<path d="M390.7,160.34 L390.9,186.89 L391.1,202.05 L391.31,211.53 L391.51,217.86 L391.71,222.32 L391.91,225.59 L392.11,228.08 L392.31,230.03 L392.52,231.58 L392.72,232.85 L392.92,233.91 L393.12,234.8 L393.32,235.58 L393.52,236.27 L393.73,236.89 L393.93,237.45 L394.13,237.97 L394.33,238.44 L394.53,238.87 L394.73,239.27 L394.94,239.65 L395.14,239.99 L395.34,240.31 L395.54,240.62 L395.74,240.9 L395.94,241.16 L396.15,241.41 L396.35,241.65 L396.55,241.87 L396.75,242.08 L396.95,242.28 L397.15,242.46 L397.36,242.64 L397.56,242.81 L397.76,242.98 L397.96,243.13 L398.16,243.28 L398.36,243.42 L398.57,243.55 L398.77,243.68 L398.97,243.81 L399.17,243.93 L399.37,244.04 L399.57,244.15 L399.78,244.26 L399.98,244.36 L400.18,244.46 L400.38,244.55 L400.58,244.65 L400.78,244.73 L400.99,244.82 L401.19,244.9 L401.39,244.98 L401.59,245.06 L401.79,245.14 L401.99,245.21 L402.2,245.28 L402.4,245.35 L402.6,245.42 L403.78,245.77 L404.97,246.08 L406.15,246.35 L407.34,246.58 L408.52,246.78 L409.71,246.96 L410.89,247.13 L412.08,247.27 L413.26,247.4 L414.45,247.52 L415.63,247.64 L416.82,247.74 L418,247.83 L419.19,247.92 L420.37,248 L421.56,248.07 L422.74,248.14 L423.93,248.21 L425.11,248.27 L426.3,248.32 L427.48,248.38 L428.67,248.43 L429.85,248.48 L431.04,248.53 L432.22,248.57 L433.41,248.61 L434.59,248.65 L435.78,248.69 L436.96,248.73 L438.15,248.76 L439.33,248.8 L440.52,248.83 L441.7,248.86 L442.89,248.89 L444.07,248.92 L445.26,248.95 L446.44,248.98 L447.63,249.01 L448.81,249.04 L449.99,249.06 L451.18,249.09 L452.36,249.11 L453.55,249.14 L454.73,249.16 L455.92,249.18 L457.1,249.2 L458.29,249.23 L459.47,249.25 L460.66,249.27 L461.84,249.29 L463.03,249.31 L464.21,249.33 L465.4,249.35 L466.58,249.37 L467.77,249.39 L468.95,249.41 L470.14,249.43 L471.32,249.44 L472.51,249.46 L473.69,249.48 L474.88,249.5 L476.06,249.52 L477.25,249.53 L478.43,249.55 L479.62,249.57 L480.8,249.58 L481.99,249.6 L483.17,249.62 L484.36,249.63 L485.54,249.65 L486.73,249.67 L487.91,249.68 L489.1,249.7 L490.28,249.71 L491.47,249.73 L492.65,249.74 L493.84,249.76 L495.02,249.77 L496.21,249.79 L497.39,249.8 L498.57,249.82 L499.76,249.83 L500.94,249.85 L502.13,249.86 L503.31,249.88 L504.5,249.89 L505.68,249.91 L506.87,249.92 L508.05,249.94 L509.24,249.95 L510.42,249.97 L511.61,249.98 L512.79,249.99 L513.98,250.01 L515.16,250.02 L516.35,250.04 L517.53,250.05 L518.72,250.06 L519.9,250.08 L521.09,250.09 L522.27,250.1 L523.46,250.12 L524.64,250.13 L525.83,250.15 L527.01,250.16 L528.2,250.17 L529.38,250.19 L530.57,250.2 L531.75,250.21 L532.94,250.23 L534.12,250.24 L535.31,250.25 L536.49,250.27 L537.68,250.28 L538.86,250.29 L540.05,250.31 L541.23,250.32 L542.42,250.33 L543.6,250.35" stroke="#9a6040" stroke-width="0.9"/>
</g>
<text transform="translate(467.1,140) scale(1,1.1)" font-size="5.48" text-anchor="middle">CEC2017-F24 (<tspan font-style="italic">dim</tspan>=30)</text>
<text transform="translate(467.1,265.9) scale(1,1.1)" font-size="5.5" text-anchor="middle">Iteration</text>
<text transform="translate(374.3,195.75) rotate(-90)" text-anchor="middle" font-size="5.5">Average fitness value</text>
<rect x="504.2" y="145.7" width="36.2" height="28.2" fill="#fff" stroke="#222" stroke-width="0.8"/>
<path d="M505.5,149.08h12.8" stroke="#222222" stroke-width="1.1"/>
<text transform="translate(519.3,150.48) scale(1,1.1)" font-size="4.65">SPBO</text>
<path d="M505.5,154.58h12.8" stroke="#c8d890" stroke-width="0.95"/>
<text transform="translate(519.3,155.98) scale(1,1.1)" font-size="4.65">ESPBO-S1</text>
<path d="M505.5,160.08h12.8" stroke="#8e8ed0" stroke-width="0.95"/>
<text transform="translate(519.3,161.48) scale(1,1.1)" font-size="4.65">ESPBO-S2</text>
<path d="M505.5,165.58h12.8" stroke="#b4c4ea" stroke-width="0.95"/>
<text transform="translate(519.3,166.98) scale(1,1.1)" font-size="4.65">ESPBO-S3</text>
<path d="M505.5,171.08h12.8" stroke="#9a6040" stroke-width="0.95"/>
<text transform="translate(519.3,172.48) scale(1,1.1)" font-size="4.65">ESPBO</text>
</g>
</svg>
</body></html>
